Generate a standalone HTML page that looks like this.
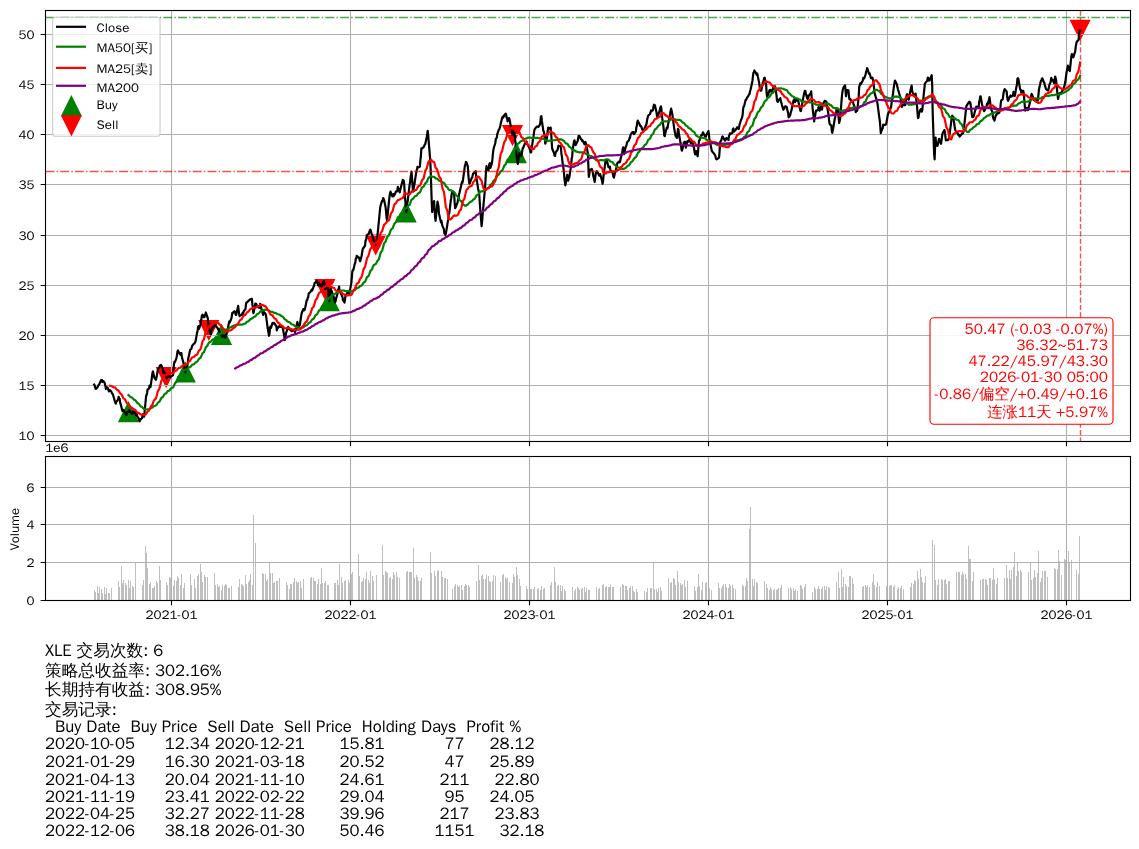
<!DOCTYPE html>
<html><head><meta charset="utf-8"><title>XLE</title>
<style>html,body{margin:0;padding:0;background:#fff;width:1139px;height:849px;overflow:hidden}svg{display:block}text{white-space:pre}</style>
</head><body>
<svg width="1139" height="849" viewBox="0 0 1139 849" font-family="'WenQuanYi Zen Hei','Liberation Sans',sans-serif">
<rect width="1139" height="849" fill="#fff"/>
<g clip-path="url(#cm)">
<clipPath id="cm"><rect x="45.5" y="10.5" width="1085.0" height="431.0"/></clipPath>
<path fill="#008000" stroke="#008000" stroke-width="1.39" stroke-miterlimit="10" d="M128.46,402.59L119.01,421.49L137.91,421.49ZM185.30,362.89L175.85,381.79L194.75,381.79ZM221.52,325.40L212.07,344.30L230.97,344.30ZM329.29,291.61L319.84,310.51L338.74,310.51ZM406.17,202.79L396.72,221.69L415.62,221.69ZM516.39,143.55L506.94,162.45L525.84,162.45Z"/>
<path fill="#ff0000" stroke="#ff0000" stroke-width="1.39" stroke-miterlimit="10" d="M166.19,386.70L156.74,367.80L175.64,367.80ZM208.78,339.49L199.33,320.59L218.23,320.59ZM324.88,298.48L315.43,279.58L334.33,279.58ZM375.82,254.07L366.37,235.17L385.27,235.17ZM512.47,144.60L503.02,125.70L521.92,125.70ZM1080.12,39.34L1070.67,20.44L1089.57,20.44Z"/>
<path fill="none" stroke="#b0b0b0" stroke-width="1.11" d="M45.5,435.50H1130.5M45.5,385.50H1130.5M45.5,335.50H1130.5M45.5,285.50H1130.5M45.5,235.50H1130.5M45.5,184.50H1130.5M45.5,134.50H1130.5M45.5,84.50H1130.5M45.5,34.50H1130.5M171.50,10.5V441.5M350.50,10.5V441.5M529.50,10.5V441.5M708.50,10.5V441.5M887.50,10.5V441.5M1066.50,10.5V441.5"/>
<path fill="none" stroke="#000" stroke-width="2.2" stroke-linejoin="round" stroke-linecap="square" d="M94.18,384.61L94.67,385.42L95.16,387.33L95.65,388.93L96.14,388.67L97.60,386.93L98.09,386.15L98.58,385.01L99.07,384.44L99.56,383.55L101.03,380.19L101.52,380.98L102.01,379.93L102.50,381.98L102.99,380.93L104.46,382.27L104.95,384.25L105.44,386.26L105.93,389.04L106.42,386.72L107.89,387.97L108.38,389.79L108.87,391.47L109.36,390.17L109.85,390.02L111.32,391.47L111.81,392.98L112.30,393.76L112.79,394.12L113.28,395.79L115.24,402.48L115.73,403.66L116.22,401.70L116.71,401.51L118.18,399.26L118.67,396.80L119.16,398.20L119.64,398.68L120.13,402.39L121.60,407.65L122.09,409.95L122.58,411.18L123.07,410.84L123.56,409.93L125.03,413.04L125.52,413.67L126.01,414.48L126.50,415.01L126.99,411.78L128.46,412.04L128.95,411.99L129.44,410.21L129.93,411.29L130.42,412.12L131.89,413.95L132.38,412.13L132.87,413.41L133.36,411.23L133.85,412.74L135.32,411.68L135.81,415.07L136.30,415.51L136.79,414.13L137.28,416.46L138.75,418.52L139.24,420.70L139.73,421.34L140.22,419.01L140.71,419.53L142.20,417.73L142.69,414.25L143.17,415.31L143.66,415.16L144.15,416.77L145.62,401.26L146.11,395.97L146.60,394.94L147.09,392.90L147.58,389.49L149.05,388.62L149.54,385.70L150.03,387.21L150.52,386.89L151.01,383.69L152.48,372.78L152.97,371.47L153.46,373.67L154.44,377.91L155.91,379.81L156.40,377.93L156.89,375.36L157.38,372.44L157.87,369.61L159.34,367.32L159.83,365.60L160.32,365.46L160.81,364.92L161.30,365.19L162.77,368.81L163.26,372.57L163.75,371.66L164.24,371.83L164.73,373.52L166.19,377.25L166.68,378.28L167.17,377.24L167.66,376.40L169.62,376.39L170.11,377.03L170.60,377.10L171.09,376.28L173.05,375.36L173.54,369.19L174.03,363.91L174.52,361.65L175.01,361.76L176.48,357.81L176.97,355.25L177.46,351.69L177.95,350.45L178.44,351.75L180.40,354.49L180.89,353.19L181.38,353.17L181.87,356.98L183.34,362.58L183.83,364.80L184.32,367.67L184.81,369.25L185.30,372.31L186.77,367.97L187.25,366.58L187.74,363.57L188.23,358.73L188.72,356.56L190.19,349.72L190.68,349.16L191.17,348.98L191.66,347.78L192.15,345.67L194.11,343.47L194.60,343.38L195.09,342.29L195.58,341.34L197.05,332.77L197.54,331.08L198.03,327.28L198.52,326.10L199.01,328.83L200.48,324.44L200.97,320.48L201.46,318.90L201.95,315.46L202.44,314.77L203.91,317.21L204.40,317.24L204.89,314.76L205.38,314.00L205.87,312.50L207.32,316.80L207.81,318.21L208.30,324.30L208.78,330.05L209.27,329.99L210.74,334.39L211.23,331.83L211.72,328.51L212.21,328.86L212.70,326.80L214.17,326.34L214.66,325.66L215.15,325.25L215.64,325.70L217.60,328.18L218.09,329.50L218.58,328.81L219.07,330.59L219.56,332.46L221.03,335.19L221.52,334.85L222.01,336.76L222.50,336.33L222.99,335.37L224.46,336.87L224.95,335.68L225.44,337.51L225.93,334.95L226.42,334.59L227.89,329.13L228.38,325.52L228.87,323.16L229.36,321.40L229.85,322.23L231.31,318.67L231.80,316.18L232.29,312.83L232.78,313.16L233.27,312.26L234.74,311.27L235.23,312.55L235.72,314.74L236.21,314.89L236.70,312.33L238.17,305.91L238.66,310.34L239.15,314.13L239.64,316.13L240.13,315.46L241.60,315.06L242.09,314.26L242.58,312.95L243.07,314.91L243.56,311.50L245.52,308.92L246.01,304.12L246.50,302.31L246.99,302.37L248.46,300.85L248.95,300.61L249.44,300.04L249.93,299.46L250.42,299.51L251.89,298.79L252.38,304.67L252.87,307.64L253.35,313.18L253.84,311.91L255.31,303.56L255.80,303.97L256.29,303.91L256.78,306.12L257.27,306.29L258.74,307.59L259.23,306.87L259.72,307.66L260.21,303.95L260.70,305.86L262.66,313.33L263.15,314.84L263.64,312.09L264.13,312.12L265.60,314.03L266.09,316.14L266.58,319.97L267.07,323.43L267.56,327.31L269.03,335.79L269.52,333.54L270.01,327.57L270.50,326.51L270.99,328.02L272.46,322.95L272.95,323.58L273.44,323.71L273.93,322.80L274.42,323.45L275.88,325.66L276.37,325.87L276.86,330.30L277.35,328.32L277.84,328.02L279.31,326.33L279.80,325.63L280.29,326.99L280.78,326.66L281.27,326.91L282.74,327.76L283.23,330.26L283.72,333.37L284.21,335.70L284.70,340.20L286.17,332.63L286.66,331.28L287.15,329.97L287.64,328.27L288.13,326.81L289.60,329.46L290.09,328.94L290.58,330.16L291.07,329.88L291.56,331.18L293.52,330.34L294.01,330.76L294.50,329.38L294.99,332.03L296.46,328.57L296.95,323.66L297.44,321.94L297.92,324.21L298.41,326.82L299.88,324.96L300.37,321.33L300.86,317.97L301.35,314.90L301.84,312.72L303.31,309.10L303.80,310.45L304.29,309.92L304.78,309.77L305.27,307.37L306.74,300.26L307.23,300.21L307.72,297.75L308.21,297.17L308.70,293.60L310.17,292.28L310.66,291.51L311.15,290.95L311.64,289.69L312.13,290.55L313.60,286.60L314.09,285.80L314.58,283.15L315.07,282.86L315.56,282.09L317.03,280.67L317.52,283.12L318.01,285.20L318.50,285.40L318.99,283.07L320.45,285.67L320.94,285.20L321.43,286.43L321.92,286.49L322.41,284.25L323.90,280.92L324.39,282.91L324.88,289.03L325.37,287.56L325.86,286.83L327.33,288.52L327.82,287.30L328.31,291.24L328.80,297.84L329.29,301.05L330.76,288.26L331.25,290.30L331.74,291.03L332.72,294.33L334.19,298.49L334.68,301.36L335.17,302.35L335.66,300.84L336.15,298.33L337.62,293.24L338.11,289.43L338.60,289.61L339.09,286.70L339.58,290.59L341.05,294.06L341.54,294.53L342.03,296.39L342.52,297.07L343.01,300.21L344.47,302.48L344.96,300.03L345.45,295.92L345.94,294.80L347.90,292.15L348.39,292.10L348.88,291.99L349.37,293.65L351.33,283.10L351.82,277.63L352.31,271.76L352.80,270.00L353.29,270.20L354.76,263.85L355.25,262.80L355.74,258.86L356.23,258.46L356.72,255.85L358.68,257.66L359.17,257.58L359.66,260.35L360.15,261.20L361.62,256.04L362.11,252.63L362.60,249.77L363.09,248.26L363.58,247.95L365.05,245.65L365.53,240.56L366.02,239.85L366.51,237.14L367.00,235.35L368.47,233.91L368.96,233.38L369.45,231.45L369.94,230.32L370.43,229.57L371.90,234.69L372.39,235.52L372.88,237.15L373.37,238.88L373.86,241.16L375.82,244.62L376.31,242.85L376.80,239.96L377.29,236.95L378.76,222.71L379.25,217.46L379.74,212.22L380.23,207.38L380.72,205.00L382.19,200.57L382.68,200.65L383.17,198.07L383.66,198.98L384.15,200.22L385.60,207.27L386.09,211.50L386.58,217.62L387.06,220.49L387.55,215.56L389.02,201.03L389.51,196.27L390.00,193.63L390.49,191.65L390.98,192.81L392.45,196.49L392.94,196.34L393.43,194.14L393.92,195.75L394.41,195.08L395.88,191.81L396.37,191.07L396.86,191.46L397.35,190.72L397.84,186.93L399.31,191.15L399.80,192.30L400.29,189.62L400.78,187.82L402.74,179.93L403.23,181.10L403.72,180.74L404.21,184.19L404.70,192.97L406.17,212.21L406.66,209.94L407.15,204.20L407.64,201.27L408.13,197.37L409.59,184.96L410.08,182.36L410.57,177.51L411.06,174.66L411.55,171.71L413.02,191.64L413.51,189.97L414.00,186.23L414.49,184.37L414.98,180.36L416.45,170.99L416.94,169.66L417.43,166.94L417.92,166.85L418.41,167.46L419.88,166.64L420.37,160.32L420.86,156.58L421.35,148.46L421.84,148.81L423.80,146.88L424.29,145.74L424.78,144.62L425.27,144.08L426.74,136.92L427.23,133.95L427.72,130.76L428.21,135.58L428.70,141.65L430.17,159.64L430.66,169.13L431.15,184.33L431.63,198.72L432.12,211.98L434.08,201.07L434.57,209.27L435.06,216.33L435.55,220.86L437.02,206.91L437.51,201.67L438.00,203.93L438.49,206.45L438.98,213.61L440.94,222.35L441.43,220.75L441.92,223.61L442.41,225.88L443.88,229.09L444.37,233.40L444.86,233.20L445.35,234.95L445.84,233.84L447.31,224.91L447.80,221.63L448.29,219.96L448.78,213.85L449.27,213.46L450.74,200.77L451.23,198.13L451.72,193.82L452.21,191.85L452.70,191.14L454.16,194.20L454.65,202.39L455.14,208.12L455.63,207.21L456.12,206.21L457.59,202.39L458.08,199.47L458.57,198.18L459.06,194.07L459.55,192.59L461.02,186.30L461.51,183.69L462.00,181.74L462.49,182.69L462.98,180.01L464.45,169.14L464.94,165.32L465.43,164.80L465.92,161.96L466.41,162.18L467.88,166.59L468.37,175.49L468.86,179.89L469.35,183.54L469.84,183.17L471.80,177.52L472.29,177.39L472.78,174.91L473.27,173.46L474.74,172.09L475.23,171.91L475.72,171.23L476.20,176.63L476.69,179.32L478.16,189.03L478.65,190.96L479.14,192.91L479.63,200.47L480.12,207.58L481.59,226.05L482.08,222.20L482.57,215.35L483.06,210.01L483.55,204.17L485.02,188.47L485.51,180.16L486.00,172.00L486.49,166.16L486.98,168.14L488.45,170.30L488.94,166.73L489.43,163.79L489.92,163.11L490.41,167.85L491.88,163.40L492.37,159.79L492.86,154.26L493.35,150.14L493.84,147.71L495.31,142.99L495.80,139.03L496.29,138.46L496.78,137.73L497.27,134.10L498.73,129.94L499.22,129.52L499.71,127.95L500.20,126.65L500.69,123.66L502.18,117.90L502.67,116.76L503.16,117.61L503.65,116.80L504.14,115.27L505.61,113.68L506.10,114.30L506.59,117.69L507.08,117.96L507.57,121.29L509.04,118.09L509.53,119.48L510.02,122.07L511.00,127.57L512.47,135.15L512.96,131.61L513.45,130.90L513.94,133.69L514.43,133.00L515.90,146.87L516.39,152.95L516.88,158.36L517.37,161.97L517.86,163.95L519.33,153.22L519.82,154.76L520.31,154.58L520.80,155.22L521.28,156.03L522.75,148.12L523.24,148.08L523.73,146.17L524.22,145.27L524.71,144.04L526.67,141.50L527.16,144.23L527.65,144.72L528.14,145.49L530.10,149.81L530.59,152.36L531.08,152.40L531.57,149.07L533.04,138.95L533.53,136.37L534.02,132.42L534.51,129.58L535.00,128.77L536.96,126.59L537.45,126.56L537.94,126.51L538.43,126.87L539.90,124.68L540.39,121.99L540.88,116.56L541.37,116.17L541.86,120.63L543.33,130.82L543.81,131.36L544.30,133.81L544.79,137.16L545.28,143.56L546.75,139.35L547.24,135.05L547.73,130.52L548.22,127.70L548.71,127.76L550.18,129.63L550.67,127.62L551.16,133.00L551.65,141.00L552.14,148.49L554.10,153.22L554.59,155.70L555.08,155.85L555.57,152.52L557.04,150.43L557.53,149.91L558.02,147.83L558.51,145.53L559.00,145.93L560.47,146.01L560.96,148.18L561.45,153.90L561.94,156.89L562.43,161.50L563.88,171.35L564.37,177.84L564.85,181.53L565.34,185.38L565.83,182.81L567.30,174.73L567.79,179.56L568.28,180.70L568.77,177.54L569.26,177.77L570.73,168.17L571.22,163.73L571.71,158.41L572.20,156.51L572.69,149.46L574.16,140.75L574.65,140.52L575.14,144.52L575.63,145.09L577.59,141.13L578.08,139.13L578.57,135.95L579.06,136.21L579.55,136.11L581.02,139.32L581.51,139.57L582.00,140.85L582.49,140.27L582.98,141.36L584.45,144.25L584.94,144.07L585.43,141.95L585.92,143.46L586.41,144.81L587.87,153.74L588.36,165.35L588.85,176.86L589.34,174.01L589.83,170.08L591.30,169.29L591.79,168.80L592.28,170.30L592.77,172.18L593.26,175.86L594.73,181.87L595.22,177.37L595.71,173.75L596.20,172.23L596.69,171.23L598.16,173.40L598.65,174.56L599.14,175.67L599.63,175.63L600.12,174.14L602.08,180.94L602.57,183.77L603.06,180.98L603.55,175.43L605.02,164.94L605.51,160.88L606.00,160.46L606.49,162.56L606.98,160.86L608.45,167.03L608.94,166.77L609.42,167.72L609.91,166.70L610.40,170.27L612.36,172.01L612.85,173.68L613.34,176.43L613.83,177.71L615.30,171.55L615.79,170.49L616.28,168.15L616.77,166.22L617.26,163.32L618.73,161.66L619.71,162.43L620.20,161.06L620.69,158.19L622.16,153.73L622.65,149.23L623.14,147.34L623.63,149.60L624.12,154.24L625.59,147.13L626.08,146.19L626.57,144.87L627.06,142.24L627.55,141.80L629.02,140.33L629.51,137.88L630.00,137.93L630.49,134.95L630.98,134.17L632.44,132.13L632.93,131.98L633.42,132.02L633.91,134.07L634.40,133.65L635.87,131.50L636.36,127.40L636.85,125.78L637.34,121.95L637.83,120.65L639.30,123.66L639.79,125.03L640.28,126.05L640.77,125.96L641.26,126.69L642.73,130.66L643.22,130.89L643.71,130.12L644.20,129.50L644.69,127.99L646.16,125.05L646.65,123.13L647.14,119.62L647.63,117.81L648.12,115.80L650.08,114.02L650.57,112.40L651.06,110.36L651.55,111.19L653.02,110.02L653.51,106.41L653.99,104.74L654.48,104.89L654.97,105.49L656.44,112.00L656.93,115.25L657.42,117.88L657.91,115.67L658.40,114.77L659.87,109.71L660.36,107.58L660.85,106.32L661.34,108.10L661.83,115.19L663.30,125.88L663.79,129.84L664.28,135.60L664.77,136.19L665.26,133.37L666.73,127.74L667.22,128.58L667.71,127.06L668.20,123.65L668.69,121.56L670.16,113.62L670.65,110.49L671.14,108.67L671.63,111.15L672.12,112.68L673.59,123.98L674.08,127.59L674.57,130.49L675.06,133.15L675.55,135.85L677.01,137.94L677.50,133.60L677.99,128.82L678.48,129.60L678.97,134.05L680.46,142.44L680.95,144.97L681.44,149.16L681.93,150.72L682.42,149.37L683.89,142.35L684.38,142.55L684.87,141.75L685.36,145.74L685.85,147.62L687.32,141.30L687.81,141.94L688.30,140.90L689.28,139.93L690.75,143.13L691.24,143.27L691.73,142.07L692.22,141.96L692.71,142.95L694.18,148.84L694.67,152.94L695.16,154.48L695.65,153.01L696.14,151.13L697.61,156.31L698.10,151.05L698.59,144.36L699.08,140.25L699.56,140.39L701.03,135.48L701.52,135.14L702.01,135.06L702.50,133.73L702.99,132.36L704.95,136.17L705.44,136.30L705.93,136.79L706.42,134.90L708.38,131.04L708.87,134.05L709.36,138.92L709.85,141.19L711.32,148.39L711.81,151.07L712.30,151.59L712.79,152.28L713.28,152.61L715.24,155.40L715.73,157.58L716.22,159.06L716.71,159.39L718.18,158.42L718.67,158.09L719.16,156.74L719.65,150.38L720.14,142.27L721.60,139.39L722.09,137.10L722.58,136.37L723.07,137.61L723.56,138.16L725.03,140.66L725.52,140.00L726.01,138.50L726.50,138.09L726.99,138.57L728.46,140.03L728.95,136.20L729.44,134.84L729.93,133.26L730.42,134.21L732.38,132.78L732.87,129.33L733.36,128.47L733.85,131.69L735.32,130.17L735.81,129.67L736.30,128.52L736.79,128.48L737.28,127.23L738.75,128.93L739.24,126.36L739.73,123.94L740.22,122.52L740.71,120.83L742.16,117.22L742.65,114.74L743.13,108.68L743.62,106.57L744.11,106.22L745.58,99.90L746.07,99.85L746.56,99.00L747.05,97.25L747.54,97.22L749.01,94.62L749.50,93.99L749.99,91.49L750.48,90.01L752.44,80.92L752.93,76.46L753.42,72.74L753.91,72.35L754.40,70.48L755.87,72.92L756.36,74.04L756.85,74.83L757.34,73.60L757.83,76.40L759.30,83.60L759.79,88.38L760.28,88.32L760.77,90.71L761.26,90.45L762.73,82.87L763.22,82.01L763.71,79.93L764.20,78.01L764.69,77.75L766.15,84.65L766.64,93.51L767.13,96.82L767.62,95.48L768.11,94.82L769.58,90.18L770.07,89.82L770.56,91.42L771.05,90.25L771.54,91.73L773.01,88.46L773.50,86.94L773.99,89.05L774.48,87.20L774.97,86.16L776.44,94.72L776.93,100.15L777.42,101.54L777.91,101.92L778.40,100.44L780.36,98.19L780.85,101.34L781.34,102.51L781.83,104.60L783.30,109.78L783.79,108.81L784.28,108.54L784.77,106.86L785.26,106.25L786.73,107.06L787.22,109.48L787.70,111.34L788.19,113.52L788.68,117.48L790.15,115.31L790.64,112.95L791.62,109.67L792.11,107.25L793.58,100.27L794.07,100.55L794.56,98.87L795.05,102.10L795.54,101.12L797.01,99.72L797.50,100.48L797.99,100.10L798.97,104.12L800.44,110.74L800.93,111.00L801.42,107.80L801.91,106.17L802.40,102.41L803.87,94.61L804.36,92.63L804.85,90.78L805.34,90.95L805.83,93.56L807.30,98.82L807.79,95.97L808.28,98.06L808.77,95.44L809.26,94.91L810.72,93.08L811.21,91.37L811.70,98.08L812.19,102.65L812.68,108.90L814.15,121.41L814.64,118.38L815.13,115.50L815.62,112.60L816.11,110.48L817.58,110.43L818.07,108.87L818.56,107.13L819.05,109.39L819.54,110.75L821.01,106.00L821.50,109.26L821.99,109.49L822.48,106.29L822.97,104.18L824.44,101.19L824.93,100.68L825.42,101.18L825.91,101.60L826.40,101.60L828.36,113.99L828.85,118.07L829.34,122.44L829.83,124.31L831.30,125.45L831.79,130.85L832.27,132.82L832.76,130.34L833.25,128.10L834.72,119.00L835.21,117.39L835.70,113.25L836.19,112.12L836.68,108.36L838.15,111.22L838.64,117.81L839.13,123.02L839.62,121.05L840.11,119.11L841.58,100.24L842.07,94.64L842.56,91.10L843.05,88.65L843.54,87.34L845.01,85.31L845.50,90.38L845.99,96.18L846.48,92.42L846.97,90.01L848.44,90.27L848.93,95.84L849.42,99.42L849.91,99.05L850.40,99.11L851.87,101.98L852.36,101.94L852.85,101.25L853.34,103.35L853.83,104.92L855.29,109.26L855.78,112.13L856.27,110.54L856.76,110.30L857.25,110.74L858.74,96.03L859.23,86.60L859.72,85.59L860.21,83.44L860.70,84.30L862.17,81.64L862.66,81.04L863.15,78.09L863.64,78.85L864.13,78.23L865.60,74.61L866.09,71.57L866.58,71.39L867.07,68.17L867.56,68.93L869.03,73.99L869.52,73.13L870.01,74.79L870.99,78.31L872.46,77.64L872.95,79.74L873.44,82.02L873.93,87.21L874.42,92.36L875.89,97.68L876.38,99.05L876.87,100.03L877.36,102.97L877.84,106.17L879.31,117.62L879.80,120.75L880.29,126.27L880.78,133.18L881.27,131.42L882.74,128.06L883.23,124.69L884.21,125.12L884.70,125.00L886.17,124.17L886.66,121.53L887.64,115.57L888.13,113.65L889.60,111.09L890.09,109.94L890.58,108.26L891.07,107.13L891.56,103.13L893.03,93.38L893.52,89.36L894.01,86.02L894.50,82.87L894.99,80.54L896.95,84.42L897.44,87.31L897.93,89.37L898.42,90.68L899.88,95.92L900.37,97.17L900.86,100.04L901.35,103.92L901.84,106.86L903.31,104.30L903.80,104.34L904.29,104.18L904.78,105.19L905.27,105.00L906.74,94.83L907.23,94.27L907.72,96.43L908.21,98.85L908.70,99.67L910.66,89.43L911.15,87.53L911.64,85.64L912.13,90.79L913.60,95.55L914.09,94.99L914.58,94.41L915.07,96.43L915.56,93.57L917.03,106.30L917.52,112.40L918.01,118.16L918.50,117.57L918.99,113.56L920.44,109.55L920.93,109.20L921.41,109.67L921.90,111.63L922.39,109.39L923.86,93.02L924.35,88.91L924.84,83.82L925.33,83.06L925.82,82.20L927.29,80.75L927.78,77.61L928.27,77.83L928.76,78.71L929.25,80.60L930.72,78.17L931.21,76.14L931.70,75.13L932.19,84.61L932.68,112.54L934.15,154.44L934.64,159.32L935.13,145.69L935.62,137.68L936.11,145.00L937.58,145.83L938.07,143.31L938.56,141.09L939.05,138.76L941.01,143.84L941.50,141.05L941.99,136.71L942.48,133.72L942.97,132.56L944.43,130.07L944.92,132.11L945.41,136.76L945.90,140.30L946.39,140.24L947.86,140.10L948.35,139.26L948.84,138.68L949.33,136.15L949.82,132.55L951.29,121.13L951.78,116.99L952.27,115.67L952.76,117.06L953.25,116.81L954.72,126.98L955.21,130.02L955.70,130.77L956.19,131.94L956.68,131.62L958.64,135.17L959.13,134.94L959.62,136.62L960.11,136.10L961.58,134.12L962.07,133.29L962.56,133.70L963.05,133.30L963.54,131.36L965.01,118.56L965.50,113.77L965.98,109.03L966.47,105.88L966.96,105.11L968.43,102.84L968.92,102.32L969.41,101.69L970.39,102.99L971.86,114.40L972.35,117.11L972.84,115.57L973.33,116.94L973.82,115.69L975.29,109.91L975.78,109.15L976.27,106.67L976.76,107.35L978.72,106.32L979.21,101.50L979.70,100.42L980.19,96.57L980.68,96.36L982.15,105.16L982.64,106.17L983.13,108.76L983.62,109.67L984.11,111.20L985.58,108.50L986.07,107.19L986.56,105.83L987.05,103.74L987.54,104.85L989.00,99.66L989.49,97.23L989.98,100.64L990.47,104.71L990.96,108.49L992.43,112.38L992.92,116.89L993.41,118.76L993.90,119.13L994.39,120.71L995.86,115.07L996.35,115.27L996.84,113.37L997.33,113.02L997.82,113.45L999.29,112.82L999.78,110.37L1000.27,109.43L1000.76,103.28L1001.25,100.45L1002.72,99.40L1003.21,95.55L1003.70,91.95L1004.19,90.33L1004.68,89.09L1006.64,91.55L1007.13,96.59L1007.62,99.51L1008.11,100.77L1009.58,96.86L1010.06,96.81L1010.55,95.42L1011.04,96.40L1011.53,96.64L1013.00,94.99L1013.49,91.87L1013.98,93.89L1014.47,96.23L1014.96,95.24L1016.43,86.67L1016.92,85.15L1017.41,78.88L1017.90,78.08L1018.39,79.07L1019.86,87.51L1020.35,89.89L1020.84,89.91L1021.33,92.65L1021.82,90.79L1023.29,90.85L1023.78,93.63L1024.27,99.52L1024.76,105.54L1025.25,110.56L1026.72,107.87L1027.21,109.60L1027.70,110.16L1028.19,109.56L1028.68,107.58L1030.15,101.55L1030.64,98.78L1031.13,95.99L1031.62,93.87L1032.11,94.94L1033.57,98.59L1034.06,100.23L1034.55,100.33L1035.04,99.66L1035.53,99.42L1037.02,101.22L1037.51,101.23L1038.00,99.02L1038.49,94.33L1038.98,89.43L1040.45,82.66L1040.94,80.91L1041.43,80.79L1041.92,78.47L1042.41,78.38L1043.88,82.41L1044.37,82.89L1044.86,85.53L1045.35,86.71L1045.84,88.84L1047.31,90.04L1047.80,89.76L1048.29,90.58L1049.27,85.14L1050.74,81.74L1051.23,77.76L1051.72,79.09L1052.21,80.59L1052.70,79.67L1054.17,83.31L1054.66,81.35L1055.15,76.63L1055.63,77.94L1056.12,79.94L1057.59,95.30L1058.08,98.94L1058.57,96.20L1059.06,95.06L1059.55,93.41L1061.02,92.66L1061.51,93.08L1062.00,91.47L1062.98,90.15L1064.45,85.94L1064.94,83.55L1065.43,81.32L1066.41,73.17L1067.88,65.69L1068.37,67.97L1068.86,70.16L1069.35,70.22L1069.84,71.00L1071.31,56.43L1071.80,54.08L1072.29,54.28L1072.78,54.99L1073.27,57.38L1075.23,51.34L1075.72,46.59L1076.21,43.99L1076.70,41.88L1078.16,40.36L1078.65,39.50L1079.14,33.56L1079.63,30.56L1080.12,29.79"/>
<path fill="none" stroke="#008000" stroke-width="2.2" stroke-linejoin="round" stroke-linecap="square" d="M128.46,394.97L128.95,395.52L129.44,396.02L129.93,396.50L130.42,396.96L131.89,397.47L132.38,397.98L132.87,398.52L133.36,399.05L133.85,399.61L135.32,400.18L135.81,400.88L136.30,401.57L136.79,402.25L137.28,402.95L138.75,403.70L139.24,404.47L139.73,405.21L140.22,405.87L140.71,406.48L142.20,407.10L142.69,407.63L143.17,408.14L143.66,408.61L144.15,409.15L145.62,409.37L146.11,409.46L146.60,409.50L147.09,409.49L147.58,409.40L149.05,409.26L149.54,408.92L150.03,408.59L150.52,408.30L151.01,407.94L152.48,407.41L152.97,406.91L153.46,406.42L154.44,406.00L155.91,405.56L156.40,404.96L156.89,404.27L157.38,403.50L157.87,402.67L159.34,401.82L159.83,400.88L160.32,399.91L160.81,398.92L161.30,397.93L162.77,397.07L163.26,396.28L163.75,395.48L164.24,394.71L164.73,393.95L166.19,393.26L166.68,392.55L167.17,391.85L167.66,391.11L169.62,390.42L170.11,389.70L170.60,389.01L171.09,388.24L173.05,387.44L173.54,386.54L174.03,385.49L174.52,384.35L175.01,383.18L176.48,381.91L176.97,380.63L177.46,379.28L177.95,377.93L178.44,376.68L180.40,375.47L180.89,374.23L181.38,372.96L181.87,372.08L183.34,371.41L183.83,370.81L184.32,370.31L184.81,369.90L185.30,369.58L186.77,369.22L187.25,368.81L187.74,368.35L188.23,367.85L188.72,367.52L190.19,367.09L190.68,366.60L191.17,366.03L191.66,365.39L192.15,364.74L194.11,364.11L194.60,363.53L195.09,362.98L195.58,362.46L197.05,361.81L197.54,361.12L198.03,360.37L198.52,359.59L199.01,358.79L200.48,357.83L200.97,356.81L201.46,355.75L201.95,354.59L202.44,353.34L203.91,352.12L204.40,350.92L204.89,349.69L205.38,348.44L205.87,347.15L207.32,345.95L207.81,344.79L208.30,343.77L208.78,342.99L209.27,342.31L210.74,341.77L211.23,341.17L211.72,340.58L212.21,340.06L212.70,339.56L214.17,339.08L214.66,338.56L215.15,337.97L215.64,337.43L217.60,336.93L218.09,336.38L218.58,335.71L219.07,335.02L219.56,334.32L221.03,333.64L221.52,332.89L222.01,332.27L222.50,331.66L222.99,331.10L224.46,330.67L224.95,330.25L225.44,330.01L225.93,329.72L226.42,329.44L227.89,329.07L228.38,328.66L228.87,328.26L229.36,327.82L229.85,327.42L231.31,326.97L231.80,326.64L232.29,326.27L232.78,325.99L233.27,325.72L234.74,325.37L235.23,325.13L235.72,325.02L236.21,324.94L236.70,324.88L238.17,324.70L238.66,324.56L239.15,324.50L239.64,324.53L240.13,324.56L241.60,324.61L242.09,324.56L242.58,324.46L243.07,324.27L243.56,323.90L245.52,323.49L246.01,322.88L246.50,322.29L246.99,321.77L248.46,321.21L248.95,320.69L249.44,320.16L249.93,319.64L250.42,319.13L251.89,318.59L252.38,318.12L252.87,317.69L253.35,317.37L253.84,317.00L255.31,316.43L255.80,315.80L256.29,315.18L256.78,314.57L257.27,313.97L258.74,313.42L259.23,312.82L259.72,312.26L260.21,311.59L260.70,311.01L262.66,310.59L263.15,310.30L263.64,310.03L264.13,309.81L265.60,309.67L266.09,309.55L266.58,309.58L267.07,309.72L267.56,310.01L269.03,310.47L269.52,310.89L270.01,311.22L270.50,311.50L270.99,311.77L272.46,311.93L272.95,312.16L273.44,312.51L273.93,312.76L274.42,312.95L275.88,313.14L276.37,313.35L276.86,313.66L277.35,313.94L277.84,314.24L279.31,314.47L279.80,314.76L280.29,315.12L280.78,315.57L281.27,316.06L282.74,316.57L283.23,317.16L283.72,317.82L284.21,318.53L284.70,319.35L286.17,320.01L286.66,320.66L287.15,321.17L287.64,321.58L288.13,321.86L289.60,322.21L290.09,322.72L290.58,323.24L291.07,323.76L291.56,324.27L293.52,324.75L294.01,325.22L294.50,325.67L294.99,326.15L296.46,326.65L296.95,327.01L297.44,327.18L297.92,327.37L298.41,327.66L299.88,327.92L300.37,328.07L300.86,328.11L301.35,328.01L301.84,327.79L303.31,327.43L303.80,326.93L304.29,326.45L304.78,326.10L305.27,325.72L306.74,325.16L307.23,324.71L307.72,324.19L308.21,323.66L308.70,323.08L310.17,322.46L310.66,321.78L311.15,321.08L311.64,320.27L312.13,319.51L313.60,318.69L314.09,317.88L314.58,317.03L315.07,316.15L315.56,315.26L317.03,314.34L317.52,313.44L318.01,312.54L318.50,311.58L318.99,310.53L320.45,309.44L320.94,308.50L321.43,307.60L321.92,306.73L322.41,305.85L323.90,304.94L324.39,304.01L324.88,303.21L325.37,302.36L325.86,301.50L327.33,300.65L327.82,299.79L328.31,299.00L328.80,298.37L329.29,297.75L330.76,296.95L331.25,296.28L331.74,295.66L332.72,295.07L334.19,294.50L334.68,294.03L335.17,293.65L335.66,293.31L336.15,292.98L337.62,292.59L338.11,292.20L338.60,291.78L339.09,291.32L339.58,290.94L341.05,290.67L341.54,290.56L342.03,290.49L342.52,290.47L343.01,290.53L344.47,290.71L344.96,290.87L345.45,290.96L345.94,291.04L347.90,291.09L348.39,291.12L348.88,291.23L349.37,291.39L351.33,291.39L351.82,291.29L352.31,291.08L352.80,290.87L353.29,290.61L354.76,290.19L355.25,289.74L355.74,289.25L356.23,288.71L356.72,288.12L358.68,287.55L359.17,286.97L359.66,286.50L360.15,286.10L361.62,285.57L362.11,284.84L362.60,284.09L363.09,283.32L363.58,282.50L365.05,281.67L365.53,280.66L366.02,279.50L366.51,278.23L367.00,277.17L368.47,276.04L368.96,274.89L369.45,273.63L369.94,272.27L370.43,270.84L371.90,269.49L372.39,268.18L372.88,266.96L373.37,265.87L373.86,264.91L375.82,264.01L376.31,263.13L376.80,262.12L377.29,260.98L378.76,259.55L379.25,257.97L379.74,256.27L380.23,254.43L380.72,252.51L382.19,250.60L382.68,248.73L383.17,246.82L383.66,244.99L384.15,243.18L385.60,241.56L386.09,239.95L386.58,238.67L387.06,237.55L387.55,236.46L389.02,235.16L389.51,233.71L390.00,232.34L390.49,230.94L390.98,229.65L392.45,228.50L392.94,227.33L393.43,226.09L393.92,224.88L394.41,223.61L395.88,222.30L396.37,221.03L396.86,219.84L397.35,218.68L397.84,217.49L399.31,216.43L399.80,215.40L400.29,214.40L400.78,213.39L402.74,212.36L403.23,211.30L403.72,210.27L404.21,209.31L404.70,208.57L406.17,208.29L406.66,207.90L407.15,207.30L407.64,206.62L408.13,205.84L409.59,204.78L410.08,203.62L410.57,202.28L411.06,200.93L411.55,199.57L413.02,198.69L413.51,198.04L414.00,197.42L414.49,196.88L414.98,196.34L416.45,195.69L416.94,195.08L417.43,194.41L417.92,193.80L418.41,193.17L419.88,192.53L420.37,191.60L420.86,190.50L421.35,189.13L421.84,187.70L423.80,186.36L424.29,185.27L424.78,184.24L425.27,183.26L426.74,182.19L427.23,181.02L427.72,179.71L428.21,178.50L428.70,177.46L430.17,176.76L430.66,176.24L431.15,176.08L431.63,176.23L432.12,176.63L434.08,176.82L434.57,177.26L435.06,177.76L435.55,178.32L437.02,178.65L437.51,178.92L438.00,179.40L438.49,179.90L438.98,180.55L440.94,181.29L441.43,181.84L441.92,182.06L442.41,182.37L443.88,182.86L444.37,183.49L444.86,184.20L445.35,185.20L445.84,186.22L447.31,187.15L447.80,188.09L448.29,189.05L448.78,189.48L449.27,189.95L450.74,190.22L451.23,190.49L451.72,190.75L452.21,191.17L452.70,191.59L454.16,192.12L454.65,192.82L455.14,193.63L455.63,194.44L456.12,195.35L457.59,196.25L458.08,197.26L458.57,198.24L459.06,199.18L459.55,200.11L461.02,200.93L461.51,201.72L462.00,202.61L462.49,203.58L462.98,204.55L464.45,205.21L464.94,205.68L465.43,205.77L465.92,205.63L466.41,205.18L467.88,204.52L468.37,203.78L468.86,203.35L469.35,202.83L469.84,202.16L471.80,201.27L472.29,200.68L472.78,200.14L473.27,199.52L474.74,198.82L475.23,197.98L475.72,196.95L476.20,196.06L476.69,195.17L478.16,194.41L478.65,193.65L479.14,192.83L479.63,192.17L480.12,191.62L481.59,191.44L482.08,191.38L482.57,191.25L483.06,191.05L483.55,190.85L485.02,190.33L485.51,189.91L486.00,189.39L486.49,188.83L486.98,188.35L488.45,187.91L488.94,187.36L489.43,186.58L489.92,185.68L490.41,184.88L491.88,184.01L492.37,183.15L492.86,182.24L493.35,181.28L493.84,180.34L495.31,179.33L495.80,178.38L496.29,177.47L496.78,176.59L497.27,175.61L498.73,174.59L499.22,173.79L499.71,173.04L500.20,172.27L500.69,171.50L502.18,170.60L502.67,169.59L503.16,168.43L503.65,167.16L504.14,165.79L505.61,164.38L506.10,163.11L506.59,161.91L507.08,160.77L507.57,159.72L509.04,158.62L509.53,157.57L510.02,156.58L511.00,155.59L512.47,154.69L512.96,153.53L513.45,152.33L513.94,151.14L514.43,149.78L515.90,148.55L516.39,147.08L516.88,145.80L517.37,144.73L517.86,143.80L519.33,142.76L519.82,142.08L520.31,141.57L520.80,141.22L521.28,141.02L522.75,140.60L523.24,140.15L523.73,139.73L524.22,139.36L524.71,138.97L526.67,138.42L527.16,138.03L527.65,137.72L528.14,137.54L530.10,137.51L530.59,137.60L531.08,137.78L531.57,137.98L533.04,137.97L533.53,137.94L534.02,137.91L534.51,137.90L535.00,137.89L536.96,137.86L537.45,137.86L537.94,137.91L538.43,138.09L539.90,138.25L540.39,138.34L540.88,138.33L541.37,138.35L541.86,138.49L543.33,138.82L543.81,139.10L544.30,139.41L544.79,139.73L545.28,140.24L546.75,140.64L547.24,140.90L547.73,140.96L548.22,140.81L548.71,140.73L550.18,140.70L550.67,140.58L551.16,140.58L551.65,140.47L552.14,140.38L554.10,140.27L554.59,140.15L555.08,139.99L555.57,139.97L557.04,139.89L557.53,139.79L558.02,139.64L558.51,139.43L559.00,139.39L560.47,139.35L560.96,139.39L561.45,139.56L561.94,139.82L562.43,140.20L563.88,140.70L564.37,141.34L564.85,142.05L565.34,142.74L565.83,143.34L567.30,143.74L567.79,144.33L568.28,145.15L568.77,145.95L569.26,146.84L570.73,147.57L571.22,148.25L571.71,148.87L572.20,149.45L572.69,149.90L574.16,150.13L574.65,150.43L575.14,150.86L575.63,151.41L577.59,151.85L578.08,152.20L578.57,152.29L579.06,152.37L579.55,152.40L581.02,152.41L581.51,152.32L582.00,152.35L582.49,152.44L582.98,152.65L584.45,152.96L584.94,153.28L585.43,153.52L585.92,153.83L586.41,154.06L587.87,154.29L588.36,154.62L588.85,155.09L589.34,155.45L589.83,155.72L591.30,156.04L591.79,156.40L592.28,156.80L592.77,157.28L593.26,157.88L594.73,158.57L595.22,159.19L595.71,159.70L596.20,160.06L596.69,160.33L598.16,160.55L598.65,160.61L599.14,160.56L599.63,160.43L600.12,160.20L602.08,160.13L602.57,160.31L603.06,160.33L603.55,160.21L605.02,159.94L605.51,159.60L606.00,159.43L606.49,159.40L606.98,159.44L608.45,159.63L608.94,159.97L609.42,160.50L609.91,161.02L610.40,161.53L612.36,162.04L612.85,162.68L613.34,163.42L613.83,164.25L615.30,164.93L615.79,165.61L616.28,166.18L616.77,166.71L617.26,167.15L618.73,167.55L619.71,167.96L620.20,168.29L620.69,168.58L622.16,168.81L622.65,168.93L623.14,168.98L623.63,168.90L624.12,168.68L625.59,168.08L626.08,167.53L626.57,167.03L627.06,166.48L627.55,165.95L629.02,165.35L629.51,164.66L630.00,163.90L630.49,162.97L630.98,162.10L632.44,161.27L632.93,160.47L633.42,159.69L633.91,158.90L634.40,158.08L635.87,157.20L636.36,156.24L636.85,155.27L637.34,154.09L637.83,152.83L639.30,151.68L639.79,150.68L640.28,149.90L640.77,149.20L641.26,148.53L642.73,147.89L643.22,147.29L643.71,146.56L644.20,145.81L644.69,145.02L646.16,144.19L646.65,143.24L647.14,142.20L647.63,141.08L648.12,139.87L650.08,138.60L650.57,137.41L651.06,136.21L651.55,135.07L653.02,133.95L653.51,132.81L653.99,131.68L654.48,130.53L654.97,129.42L656.44,128.49L656.93,127.72L657.42,127.10L657.91,126.47L658.40,125.77L659.87,124.88L660.36,124.09L660.85,123.29L661.34,122.56L661.83,122.02L663.30,121.70L663.79,121.49L664.28,121.45L664.77,121.41L665.26,121.38L666.73,121.26L667.22,121.19L667.71,121.09L668.20,120.92L668.69,120.67L670.16,120.27L670.65,119.85L671.14,119.48L671.63,119.19L672.12,119.00L673.59,119.07L674.08,119.15L674.57,119.26L675.06,119.40L675.55,119.60L677.01,119.83L677.50,119.89L677.99,119.85L678.48,119.84L678.97,119.93L680.46,120.22L680.95,120.62L681.44,121.14L681.93,121.76L682.42,122.40L683.89,122.93L684.38,123.50L684.87,124.09L685.36,124.80L685.85,125.53L687.32,126.15L687.81,126.86L688.30,127.59L689.28,128.29L690.75,129.05L691.24,129.67L691.73,130.21L692.22,130.69L692.71,131.24L694.18,131.92L694.67,132.79L695.16,133.72L695.65,134.66L696.14,135.52L697.61,136.34L698.10,136.85L698.59,137.14L699.08,137.23L699.56,137.32L701.03,137.36L701.52,137.51L702.01,137.64L702.50,137.77L702.99,137.95L704.95,138.24L705.44,138.70L705.93,139.23L706.42,139.75L708.38,140.15L708.87,140.58L709.36,140.88L709.85,141.15L711.32,141.51L711.81,141.87L712.30,142.19L712.79,142.47L713.28,142.85L715.24,143.39L715.73,143.95L716.22,144.45L716.71,144.79L718.18,145.06L718.67,145.24L719.16,145.36L719.65,145.38L720.14,145.38L721.60,145.32L722.09,145.23L722.58,145.04L723.07,144.84L723.56,144.78L725.03,144.76L725.52,144.74L726.01,144.71L726.50,144.61L726.99,144.52L728.46,144.48L728.95,144.36L729.44,144.20L729.93,143.89L730.42,143.52L732.38,143.08L732.87,142.61L733.36,142.16L733.85,141.67L735.32,141.25L735.81,140.96L736.30,140.73L736.79,140.49L737.28,140.32L738.75,140.20L739.24,140.03L739.73,139.83L740.22,139.64L740.71,139.33L742.16,138.95L742.65,138.51L743.13,137.99L743.62,137.50L744.11,136.94L745.58,136.16L746.07,135.34L746.56,134.35L747.05,133.27L747.54,132.19L749.01,131.04L749.50,129.86L749.99,128.59L750.48,127.24L752.44,125.68L752.93,124.02L753.42,122.31L753.91,120.59L754.40,118.87L755.87,117.32L756.36,115.96L756.85,114.66L757.34,113.40L757.83,112.20L759.30,111.12L759.79,110.12L760.28,109.08L760.77,108.09L761.26,107.13L762.73,106.03L763.22,104.90L763.71,103.70L764.20,102.54L764.69,101.39L766.15,100.42L766.64,99.61L767.13,98.89L767.62,98.22L768.11,97.54L769.58,96.71L770.07,95.91L770.56,95.14L771.05,94.38L771.54,93.65L773.01,92.87L773.50,92.03L773.99,91.29L774.48,90.55L774.97,89.83L776.44,89.31L776.93,88.97L777.42,88.70L777.91,88.57L778.40,88.45L780.36,88.29L780.85,88.32L781.34,88.37L781.83,88.48L783.30,88.74L783.79,88.97L784.28,89.25L784.77,89.51L785.26,89.80L786.73,90.14L787.22,90.72L787.70,91.41L788.19,92.23L788.68,93.13L790.15,94.03L790.64,94.83L791.62,95.55L792.11,96.20L793.58,96.73L794.07,97.22L794.56,97.52L795.05,97.80L795.54,98.05L797.01,98.24L797.50,98.44L797.99,98.78L798.97,99.23L800.44,99.84L800.93,100.50L801.42,101.11L801.91,101.54L802.40,101.72L803.87,101.67L804.36,101.62L804.85,101.54L805.34,101.55L805.83,101.63L807.30,101.78L807.79,101.89L808.28,102.02L808.77,102.16L809.26,102.32L810.72,102.40L811.21,102.49L811.70,102.73L812.19,102.89L812.68,103.06L814.15,103.46L814.64,103.79L815.13,104.09L815.62,104.38L816.11,104.57L817.58,104.73L818.07,104.81L818.56,104.76L819.05,104.77L819.54,104.82L821.01,104.80L821.50,104.86L821.99,104.91L822.48,104.85L822.97,104.71L824.44,104.46L824.93,104.13L825.42,103.84L825.91,103.62L826.40,103.46L828.36,103.60L828.85,103.95L829.34,104.39L829.83,104.90L831.30,105.37L831.79,105.96L832.27,106.63L832.76,107.22L833.25,107.79L834.72,108.09L835.21,108.22L835.70,108.26L836.19,108.35L836.68,108.40L838.15,108.57L838.64,109.04L839.13,109.65L839.62,110.25L840.11,110.82L841.58,110.95L842.07,110.87L842.56,110.77L843.05,110.59L843.54,110.42L845.01,110.23L845.50,110.18L845.99,110.28L846.48,110.17L846.97,109.91L848.44,109.54L848.93,109.03L849.42,108.65L849.91,108.32L850.40,108.06L851.87,107.89L852.36,107.72L852.85,107.57L853.34,107.49L853.83,107.40L855.29,107.38L855.78,107.50L856.27,107.52L856.76,107.54L857.25,107.63L858.74,107.47L859.23,107.18L859.72,106.88L860.21,106.52L860.70,106.18L862.17,105.78L862.66,105.12L863.15,104.32L863.64,103.45L864.13,102.53L865.60,101.52L866.09,100.33L866.58,99.10L867.07,97.86L867.56,96.68L869.03,95.78L869.52,94.90L870.01,94.13L870.99,93.45L872.46,92.84L872.95,92.21L873.44,91.49L873.93,90.78L874.42,90.21L875.89,89.78L876.38,89.76L876.87,89.86L877.36,90.10L877.84,90.45L879.31,91.06L879.80,91.77L880.29,92.49L880.78,93.23L881.27,94.01L882.74,94.77L883.23,95.46L884.21,96.05L884.70,96.56L886.17,97.07L886.66,97.52L887.64,97.79L888.13,98.02L889.60,98.22L890.09,98.36L890.58,98.42L891.07,98.38L891.56,98.20L893.03,97.86L893.52,97.44L894.01,96.95L894.50,96.69L894.99,96.57L896.95,96.54L897.44,96.62L897.93,96.72L898.42,96.91L899.88,97.21L900.37,97.59L900.86,98.01L901.35,98.53L901.84,99.17L903.31,99.83L903.80,100.49L904.29,101.21L904.78,101.94L905.27,102.56L906.74,102.99L907.23,103.38L907.72,103.75L908.21,104.17L908.70,104.57L910.66,104.72L911.15,104.73L911.64,104.59L912.13,104.46L913.60,104.39L914.09,104.29L914.58,104.12L915.07,103.92L915.56,103.44L917.03,103.16L917.52,102.88L918.01,102.58L918.50,102.30L918.99,102.01L920.44,101.71L920.93,101.40L921.41,101.09L921.90,100.84L922.39,100.60L923.86,100.15L924.35,99.65L924.84,99.11L925.33,98.57L925.82,98.05L927.29,97.53L927.78,97.02L928.27,96.71L928.76,96.49L929.25,96.39L930.72,96.29L931.21,96.21L931.70,96.02L932.19,95.97L932.68,96.43L934.15,97.71L934.64,98.98L935.13,99.95L935.62,100.70L936.11,101.53L937.58,102.31L938.07,103.09L938.56,103.82L939.05,104.52L941.01,105.29L941.50,106.01L941.99,106.85L942.48,107.64L942.97,108.36L944.43,108.99L944.92,109.64L945.41,110.59L945.90,111.64L946.39,112.74L947.86,113.72L948.35,114.60L948.84,115.47L949.33,116.31L949.82,117.03L951.29,117.59L951.78,117.80L952.27,117.87L952.76,117.84L953.25,117.83L954.72,118.10L955.21,118.51L955.70,118.94L956.19,119.39L956.68,119.79L958.64,120.31L959.13,121.15L959.62,122.10L960.11,123.15L961.58,124.17L962.07,125.19L962.56,126.25L963.05,127.37L963.54,128.44L965.01,129.24L965.50,129.90L965.98,130.52L966.47,131.12L966.96,131.72L968.43,132.08L968.92,131.88L969.41,130.82L970.39,129.70L971.86,129.07L972.35,128.66L972.84,128.08L973.33,127.50L973.82,126.95L975.29,126.33L975.78,125.73L976.27,124.99L976.76,124.32L978.72,123.71L979.21,123.07L979.70,122.43L980.19,121.76L980.68,121.04L982.15,120.41L982.64,119.73L983.13,119.10L983.62,118.49L984.11,117.93L985.58,117.33L986.07,116.75L986.56,116.22L987.05,115.87L987.54,115.63L989.00,115.31L989.49,114.92L989.98,114.59L990.47,114.18L990.96,113.78L992.43,113.50L992.92,113.22L993.41,113.00L993.90,112.71L994.39,112.45L995.86,112.11L996.35,111.72L996.84,111.33L997.33,110.96L997.82,110.58L999.29,110.26L999.78,109.87L1000.27,109.72L1000.76,109.54L1001.25,109.39L1002.72,109.35L1003.21,109.19L1003.70,109.00L1004.19,108.79L1004.68,108.57L1006.64,108.46L1007.13,108.13L1007.62,107.81L1008.11,107.54L1009.58,107.23L1010.06,106.88L1010.55,106.62L1011.04,106.40L1011.53,106.22L1013.00,106.07L1013.49,105.81L1013.98,105.68L1014.47,105.63L1014.96,105.63L1016.43,105.53L1016.92,105.15L1017.41,104.64L1017.90,104.05L1018.39,103.47L1019.86,103.09L1020.35,102.73L1020.84,102.38L1021.33,102.13L1021.82,101.87L1023.29,101.61L1023.78,101.49L1024.27,101.54L1024.76,101.64L1025.25,101.77L1026.72,101.77L1027.21,101.72L1027.70,101.59L1028.19,101.41L1028.68,101.18L1030.15,100.81L1030.64,100.49L1031.13,100.11L1031.62,99.73L1032.11,99.37L1033.57,99.09L1034.06,98.84L1034.55,98.64L1035.04,98.45L1035.53,98.38L1037.02,98.41L1037.51,98.45L1038.00,98.53L1038.49,98.58L1038.98,98.57L1040.45,98.45L1040.94,98.24L1041.43,97.93L1041.92,97.52L1042.41,97.07L1043.88,96.80L1044.37,96.52L1044.86,96.33L1045.35,96.14L1045.84,95.99L1047.31,95.91L1047.80,95.87L1048.29,95.81L1049.27,95.60L1050.74,95.34L1051.23,95.17L1051.72,95.05L1052.21,95.09L1052.70,95.13L1054.17,95.23L1054.66,95.11L1055.15,94.85L1055.63,94.61L1056.12,94.36L1057.59,94.47L1058.08,94.63L1058.57,94.69L1059.06,94.61L1059.55,94.37L1061.02,94.02L1061.51,93.73L1062.00,93.38L1062.98,92.98L1064.45,92.53L1064.94,92.05L1065.43,91.65L1066.41,91.15L1067.88,90.56L1068.37,90.04L1068.86,89.55L1069.35,88.99L1069.84,88.41L1071.31,87.55L1071.80,86.64L1072.29,85.74L1072.78,84.82L1073.27,83.95L1075.23,83.02L1075.72,82.07L1076.21,81.16L1076.70,80.35L1078.16,79.55L1078.65,78.73L1079.14,77.84L1079.63,76.89L1080.12,75.84"/>
<path fill="none" stroke="#ff0000" stroke-width="2.2" stroke-linejoin="round" stroke-linecap="square" d="M109.85,385.72L111.32,386.00L111.81,386.30L112.30,386.56L112.79,386.76L113.28,387.05L115.24,387.67L115.73,388.37L116.22,389.04L116.71,389.72L118.18,390.35L118.67,391.01L119.16,391.70L119.64,392.45L120.13,393.27L121.60,394.34L122.09,395.44L122.58,396.52L123.07,397.50L123.56,398.34L125.03,399.39L125.52,400.42L126.01,401.41L126.50,402.35L126.99,403.21L128.46,404.10L128.95,404.92L129.44,405.60L129.93,406.31L130.42,407.03L131.89,407.75L132.38,408.14L132.87,408.53L133.36,408.91L133.85,409.36L135.32,409.86L135.81,410.59L136.30,411.28L136.79,411.90L137.28,412.46L138.75,412.89L139.24,413.32L139.73,413.73L140.22,414.06L140.71,414.44L142.20,414.63L142.69,414.65L143.17,414.68L143.66,414.69L144.15,414.89L145.62,414.46L146.11,413.82L146.60,413.21L147.09,412.47L147.58,411.57L149.05,410.55L149.54,409.50L150.03,408.45L150.52,407.48L151.01,406.31L152.48,404.76L152.97,403.01L153.46,401.34L154.44,399.89L155.91,398.43L156.40,396.80L156.89,394.99L157.38,393.03L157.87,391.06L159.34,388.97L159.83,386.88L160.32,384.93L160.81,382.92L161.30,380.92L162.77,379.00L163.26,377.85L163.75,376.88L164.24,375.95L164.73,375.18L166.19,374.69L166.68,374.28L167.17,373.94L167.66,373.50L169.62,373.08L170.11,372.82L170.60,372.99L171.09,373.18L173.05,373.25L173.54,372.90L174.03,372.27L174.52,371.61L175.01,371.07L176.48,370.49L176.97,369.91L177.46,369.29L177.95,368.68L178.44,368.13L180.40,367.71L180.89,367.23L181.38,366.61L181.87,365.99L183.34,365.62L183.83,365.34L184.32,365.11L184.81,364.79L185.30,364.55L186.77,364.18L187.25,363.78L187.74,363.27L188.23,362.54L188.72,361.72L190.19,360.66L190.68,359.61L191.17,358.80L191.66,358.15L192.15,357.51L194.11,356.78L194.60,356.21L195.09,355.69L195.58,355.27L197.05,354.57L197.54,353.74L198.03,352.65L198.52,351.57L199.01,350.59L200.48,349.29L200.97,347.61L201.46,345.77L201.95,343.68L202.44,341.50L203.91,339.30L204.40,337.27L204.89,335.20L205.38,333.21L205.87,331.36L207.32,329.77L207.81,328.51L208.30,327.52L208.78,326.76L209.27,326.05L210.74,325.60L211.23,325.13L211.72,324.54L212.21,324.00L212.70,323.42L214.17,323.16L214.66,322.95L215.15,322.87L215.64,322.85L217.60,322.82L218.09,323.03L218.58,323.36L219.07,323.83L219.56,324.51L221.03,325.32L221.52,326.03L222.01,326.81L222.50,327.67L222.99,328.53L224.46,329.50L224.95,330.26L225.44,331.03L225.93,331.46L226.42,331.64L227.89,331.60L228.38,331.25L228.87,330.90L229.36,330.62L229.85,330.35L231.31,330.03L231.80,329.62L232.29,329.11L232.78,328.63L233.27,328.09L234.74,327.41L235.23,326.73L235.72,326.17L236.21,325.54L236.70,324.74L238.17,323.57L238.66,322.59L239.15,321.68L239.64,320.87L240.13,320.08L241.60,319.20L242.09,318.35L242.58,317.36L243.07,316.56L243.56,315.64L245.52,314.83L246.01,313.97L246.50,313.14L246.99,312.38L248.46,311.52L248.95,310.80L249.44,310.16L249.93,309.62L250.42,309.07L251.89,308.54L252.38,308.27L252.87,308.08L253.35,308.01L253.84,307.89L255.31,307.54L255.80,307.47L256.29,307.21L256.78,306.89L257.27,306.50L258.74,306.18L259.23,305.85L259.72,305.59L260.21,305.23L260.70,304.87L262.66,304.94L263.15,305.18L263.64,305.50L264.13,305.89L265.60,306.35L266.09,306.97L266.58,307.74L267.07,308.68L267.56,309.79L269.03,311.24L269.52,312.63L270.01,313.55L270.50,314.30L270.99,314.90L272.46,315.34L272.95,316.14L273.44,316.93L273.93,317.68L274.42,318.38L275.88,319.15L276.37,319.88L276.86,320.82L277.35,321.65L277.84,322.61L279.31,323.43L279.80,323.92L280.29,324.41L280.78,324.99L281.27,325.58L282.74,326.13L283.23,326.69L283.72,327.23L284.21,327.72L284.70,328.24L286.17,328.11L286.66,328.02L287.15,328.12L287.64,328.19L288.13,328.14L289.60,328.40L290.09,328.61L290.58,328.87L291.07,329.15L291.56,329.46L293.52,329.65L294.01,329.85L294.50,329.81L294.99,329.96L296.46,329.98L296.95,329.87L297.44,329.72L297.92,329.61L298.41,329.62L299.88,329.54L300.37,329.28L300.86,328.79L301.35,328.05L301.84,327.13L303.31,325.89L303.80,325.00L304.29,324.15L304.78,323.34L305.27,322.51L306.74,321.44L307.23,320.27L307.72,319.03L308.21,317.71L308.70,316.25L310.17,314.70L310.66,313.15L311.15,311.55L311.64,309.97L312.13,308.31L313.60,306.63L314.09,305.11L314.58,303.56L315.07,301.91L315.56,300.12L317.03,298.35L317.52,296.82L318.01,295.51L318.50,294.33L318.99,293.14L320.45,292.20L320.94,291.19L321.43,290.25L321.92,289.32L322.41,288.40L323.90,287.62L324.39,286.93L324.88,286.58L325.37,286.20L325.86,285.93L327.33,285.78L327.82,285.61L328.31,285.62L328.80,285.95L329.29,286.37L330.76,286.43L331.25,286.61L331.74,286.93L332.72,287.39L334.19,288.04L334.68,288.87L335.17,289.64L335.66,290.27L336.15,290.78L337.62,291.19L338.11,291.34L338.60,291.52L339.09,291.53L339.58,291.69L341.05,292.09L341.54,292.63L342.03,293.17L342.52,293.49L343.01,294.00L344.47,294.62L344.96,295.08L345.45,295.43L345.94,295.57L347.90,295.34L348.39,294.98L348.88,295.13L349.37,295.27L351.33,294.95L351.82,294.28L352.31,293.21L352.80,291.96L353.29,290.67L354.76,289.19L355.25,287.77L355.74,286.40L356.23,285.16L356.72,283.81L358.68,282.65L359.17,281.33L359.66,279.98L360.15,278.64L361.62,277.03L362.11,275.25L362.60,273.23L363.09,271.07L363.58,268.98L365.05,266.97L365.53,264.80L366.02,262.71L366.51,260.51L367.00,258.25L368.47,255.86L368.96,253.87L369.45,252.02L369.94,250.36L370.43,248.75L371.90,247.33L372.39,246.19L372.88,245.17L373.37,244.37L373.86,243.68L375.82,243.23L376.31,242.63L376.80,241.93L377.29,240.99L378.76,239.45L379.25,237.91L379.74,236.29L380.23,234.61L380.72,232.91L382.19,231.10L382.68,229.33L383.17,227.66L383.66,226.05L384.15,224.60L385.60,223.56L386.09,222.69L386.58,222.09L387.06,221.68L387.55,221.12L389.02,220.06L389.51,218.55L390.00,216.91L390.49,215.11L390.98,213.30L392.45,211.60L392.94,209.69L393.43,207.77L393.92,206.03L394.41,204.39L395.88,203.24L396.37,202.21L396.86,201.41L397.35,200.77L397.84,200.07L399.31,199.78L399.80,199.48L400.29,199.17L400.78,198.75L402.74,198.05L403.23,197.03L403.72,195.83L404.21,194.52L404.70,193.45L406.17,193.39L406.66,193.76L407.15,194.08L407.64,194.39L408.13,194.63L409.59,194.34L410.08,193.78L410.57,193.04L411.06,192.27L411.55,191.32L413.02,191.20L413.51,191.14L414.00,190.95L414.49,190.68L414.98,190.27L416.45,189.66L416.94,188.80L417.43,187.80L417.92,186.90L418.41,186.09L419.88,185.58L420.37,184.76L420.86,183.80L421.35,182.38L421.84,180.62L423.80,178.04L424.29,175.48L424.78,173.11L425.27,170.83L426.74,168.43L427.23,166.40L427.72,164.35L428.21,162.68L428.70,161.36L430.17,160.90L430.66,159.99L431.15,159.76L431.63,160.25L432.12,161.34L434.08,162.14L434.57,163.66L435.06,165.52L435.55,167.66L437.02,169.24L437.51,170.60L438.00,172.08L438.49,173.92L438.98,176.19L440.94,179.11L441.43,181.98L441.92,185.04L442.41,188.24L443.88,191.59L444.37,195.16L444.86,199.00L445.35,203.03L445.84,207.14L447.31,210.69L447.80,213.88L448.29,216.28L448.78,218.06L449.27,219.22L450.74,219.28L451.23,218.71L451.72,218.41L452.21,217.71L452.70,216.69L454.16,215.60L454.65,215.41L455.14,215.66L455.63,215.78L456.12,215.76L457.59,215.29L458.08,214.36L458.57,213.45L459.06,212.26L459.55,210.92L461.02,209.18L461.51,207.19L462.00,205.12L462.49,203.02L462.98,200.86L464.45,198.60L464.94,196.34L465.43,194.12L465.92,192.04L466.41,189.98L467.88,188.59L468.37,187.67L468.86,187.10L469.35,186.76L469.84,186.44L471.80,185.73L472.29,184.72L472.78,183.39L473.27,182.03L474.74,180.64L475.23,179.41L475.72,178.27L476.20,177.40L476.69,176.80L478.16,176.63L478.65,176.81L479.14,177.17L479.63,177.91L480.12,178.90L481.59,180.77L482.08,182.91L482.57,184.92L483.06,186.73L483.55,188.43L485.02,189.51L485.51,190.07L486.00,189.94L486.49,189.40L486.98,188.79L488.45,188.31L488.94,187.88L489.43,187.35L489.92,186.89L490.41,186.67L491.88,186.36L492.37,185.88L492.86,185.21L493.35,184.16L493.84,182.91L495.31,181.09L495.80,179.03L496.29,176.86L496.78,174.36L497.27,171.43L498.73,167.61L499.22,163.92L499.71,160.43L500.20,157.11L500.69,153.90L502.18,151.10L502.67,148.58L503.16,146.41L503.65,144.45L504.14,142.34L505.61,140.22L506.10,138.22L506.59,136.47L507.08,134.76L507.57,133.00L509.04,131.48L509.53,129.96L510.02,128.78L511.00,128.07L512.47,127.86L512.96,127.50L513.45,127.27L513.94,127.18L514.43,126.87L515.90,126.91L516.39,127.68L516.88,128.68L517.37,129.88L517.86,131.22L519.33,131.94L519.82,133.26L520.31,134.55L520.80,135.80L521.28,137.12L522.75,137.67L523.24,138.79L523.73,139.81L524.22,140.66L524.71,141.45L526.67,142.20L527.16,143.28L527.65,144.31L528.14,145.28L530.10,146.28L530.59,147.00L531.08,147.86L531.57,148.61L533.04,149.03L533.53,149.25L534.02,148.76L534.51,147.91L535.00,146.81L536.96,145.74L537.45,144.34L537.94,143.35L538.43,142.33L539.90,141.39L540.39,140.15L540.88,138.65L541.37,137.46L541.86,136.45L543.33,136.10L543.81,135.63L544.30,135.31L544.79,135.22L545.28,135.27L546.75,135.30L547.24,134.97L547.73,134.28L548.22,133.37L548.71,132.47L550.18,131.94L550.67,131.57L551.16,131.48L551.65,131.80L552.14,132.53L554.10,133.42L554.59,134.57L555.08,135.72L555.57,136.73L557.04,137.61L557.53,138.60L558.02,139.61L558.51,140.74L559.00,141.91L560.47,142.86L560.96,143.53L561.45,144.41L561.94,145.31L562.43,146.24L563.88,147.19L564.37,148.67L564.85,150.48L565.34,152.62L565.83,154.77L567.30,156.48L567.79,158.43L568.28,160.49L568.77,162.22L569.26,163.64L570.73,164.26L571.22,164.63L571.71,164.68L572.20,164.65L572.69,164.48L574.16,163.93L574.65,163.50L575.14,163.31L575.63,163.24L577.59,162.83L578.08,162.50L578.57,161.95L579.06,161.19L579.55,160.31L581.02,159.37L581.51,158.10L582.00,156.62L582.49,154.97L582.98,153.21L584.45,151.66L584.94,150.44L585.43,148.93L585.92,147.44L586.41,146.14L587.87,145.17L588.36,145.06L588.85,145.59L589.34,146.21L589.83,146.75L591.30,147.55L591.79,148.67L592.28,149.86L592.77,150.97L593.26,152.20L594.73,153.83L595.22,155.36L595.71,156.87L596.20,158.31L596.69,159.71L598.16,161.08L598.65,162.48L599.14,163.87L599.63,165.28L600.12,166.60L602.08,168.06L602.57,169.65L603.06,171.21L603.55,172.49L605.02,173.30L605.51,173.58L606.00,173.39L606.49,172.81L606.98,172.29L608.45,172.17L608.94,172.06L609.42,172.02L609.91,171.88L610.40,171.80L612.36,171.65L612.85,171.32L613.34,171.28L613.83,171.44L615.30,171.41L615.79,171.38L616.28,171.17L616.77,170.84L617.26,170.35L618.73,169.79L619.71,169.32L620.20,168.52L620.69,167.50L622.16,166.41L622.65,165.36L623.14,164.66L623.63,164.21L624.12,163.96L625.59,163.34L626.08,162.75L626.57,161.87L627.06,160.89L627.55,159.85L629.02,158.79L629.51,157.50L630.00,156.14L630.49,154.59L630.98,152.90L632.44,151.07L632.93,149.49L633.42,147.95L633.91,146.59L634.40,145.29L635.87,144.01L636.36,142.64L636.85,141.18L637.34,139.61L637.83,138.11L639.30,136.91L639.79,135.94L640.28,135.09L640.77,134.14L641.26,133.04L642.73,132.38L643.22,131.77L643.71,131.18L644.20,130.67L644.69,130.12L646.16,129.51L646.65,128.92L647.14,128.18L647.63,127.50L648.12,126.76L650.08,126.04L650.57,125.26L651.06,124.39L651.55,123.47L653.02,122.53L653.51,121.52L653.99,120.62L654.48,119.78L654.97,119.12L656.44,118.78L656.93,118.44L657.42,118.16L657.91,117.74L658.40,117.29L659.87,116.61L660.36,115.69L660.85,114.71L661.34,113.83L661.83,113.26L663.30,113.17L663.79,113.36L664.28,113.86L664.77,114.52L665.26,115.15L666.73,115.63L667.22,116.21L667.71,116.79L668.20,117.33L668.69,117.74L670.16,117.88L670.65,118.05L671.14,118.20L671.63,118.45L672.12,118.74L673.59,119.22L674.08,119.72L674.57,120.22L675.06,120.92L675.55,121.76L677.01,122.89L677.50,123.93L677.99,124.83L678.48,125.69L678.97,126.45L680.46,127.11L680.95,127.71L681.44,128.26L681.93,128.84L682.42,129.48L683.89,130.06L684.38,130.62L684.87,131.21L685.36,132.09L685.85,133.13L687.32,134.24L687.81,135.50L688.30,136.79L689.28,137.94L690.75,139.16L691.24,139.93L691.73,140.51L692.22,140.97L692.71,141.36L694.18,141.88L694.67,142.48L695.16,143.31L695.65,144.28L696.14,145.14L697.61,146.03L698.10,146.38L698.59,146.35L699.08,146.00L699.56,145.58L701.03,145.03L701.52,144.74L702.01,144.44L702.50,144.12L702.99,143.58L704.95,143.13L705.44,142.93L705.93,142.72L706.42,142.48L708.38,142.12L708.87,141.76L709.36,141.59L709.85,141.55L711.32,141.81L711.81,142.13L712.30,142.24L712.79,142.22L713.28,142.14L715.24,142.24L715.73,142.50L716.22,142.61L716.71,142.94L718.18,143.50L718.67,144.22L719.16,144.87L719.65,145.47L720.14,145.75L721.60,145.92L722.09,146.06L722.58,146.22L723.07,146.28L723.56,146.35L725.03,146.51L725.52,146.71L726.01,147.01L726.50,147.17L726.99,147.16L728.46,147.11L728.95,146.62L729.44,145.97L729.93,145.24L730.42,144.52L732.38,143.72L732.87,142.68L733.36,141.52L733.85,140.42L735.32,139.25L735.81,138.10L736.30,136.92L736.79,135.79L737.28,134.86L738.75,134.33L739.24,133.81L739.73,133.28L740.22,132.73L740.71,132.06L742.16,131.22L742.65,130.18L743.13,128.93L743.62,127.65L744.11,126.38L745.58,124.83L746.07,123.22L746.56,121.74L747.05,120.23L747.54,118.79L749.01,117.21L749.50,115.66L749.99,114.14L750.48,112.60L752.44,110.57L752.93,108.42L753.42,106.15L753.91,103.90L754.40,101.58L755.87,99.41L756.36,97.21L756.85,95.15L757.34,93.14L757.83,91.29L759.30,89.80L759.79,88.65L760.28,87.59L760.77,86.87L761.26,86.23L762.73,85.30L763.22,84.58L763.71,83.78L764.20,82.94L764.69,82.16L766.15,81.66L766.64,81.62L767.13,81.73L767.62,81.89L768.11,82.08L769.58,82.45L770.07,82.99L770.56,83.73L771.05,84.45L771.54,85.30L773.01,85.92L773.50,86.44L773.99,87.01L774.48,87.55L774.97,87.94L776.44,88.39L776.93,88.86L777.42,89.39L777.91,89.83L778.40,90.23L780.36,90.85L780.85,91.62L781.34,92.52L781.83,93.59L783.30,94.87L783.79,95.83L784.28,96.43L784.77,96.84L785.26,97.27L786.73,97.76L787.22,98.53L787.70,99.39L788.19,100.27L788.68,101.36L790.15,102.31L790.64,103.29L791.62,104.19L792.11,104.92L793.58,105.45L794.07,106.02L794.56,106.19L795.05,106.27L795.54,106.25L797.01,106.16L797.50,106.16L797.99,106.24L798.97,106.35L800.44,106.68L800.93,106.93L801.42,106.86L801.91,106.75L802.40,106.50L803.87,106.01L804.36,105.47L804.85,104.82L805.34,104.08L805.83,103.37L807.30,102.78L807.79,101.92L808.28,101.23L808.77,100.53L809.26,99.94L810.72,99.37L811.21,99.01L811.70,98.92L812.19,99.07L812.68,99.34L814.15,100.15L814.64,100.90L815.13,101.50L815.62,102.00L816.11,102.25L817.58,102.24L818.07,102.16L818.56,102.13L819.05,102.26L819.54,102.59L821.01,103.05L821.50,103.71L821.99,104.46L822.48,105.07L822.97,105.50L824.44,105.59L824.93,105.78L825.42,105.91L825.91,106.15L826.40,106.42L828.36,107.26L828.85,108.32L829.34,109.30L829.83,110.17L831.30,110.83L831.79,111.20L832.27,111.78L832.76,112.38L833.25,113.00L834.72,113.34L835.21,113.62L835.70,113.79L836.19,113.99L836.68,113.95L838.15,113.97L838.64,114.44L839.13,114.99L839.62,115.45L840.11,115.97L841.58,115.81L842.07,115.55L842.56,115.16L843.05,114.66L843.54,114.09L845.01,113.44L845.50,112.50L845.99,111.62L846.48,110.42L846.97,109.05L848.44,107.64L848.93,106.24L849.42,104.90L849.91,103.65L850.40,102.49L851.87,101.81L852.36,101.19L852.85,100.71L853.34,100.36L853.83,100.22L855.29,100.15L855.78,99.92L856.27,99.42L856.76,98.99L857.25,98.65L858.74,98.49L859.23,98.16L859.72,97.94L860.21,97.74L860.70,97.61L862.17,97.47L862.66,97.09L863.15,96.37L863.64,95.83L864.13,95.36L865.60,94.73L866.09,93.76L866.58,92.64L867.07,91.40L867.56,90.19L869.03,89.07L869.52,87.92L870.01,86.86L870.99,85.86L872.46,84.77L872.95,83.59L873.44,82.39L873.93,81.45L874.42,80.74L875.89,80.21L876.38,80.33L876.87,80.87L877.36,81.57L877.84,82.48L879.31,83.81L879.80,85.37L880.29,87.18L880.78,89.39L881.27,91.49L882.74,93.48L883.23,95.49L884.21,97.63L884.70,99.77L886.17,102.01L886.66,104.12L887.64,105.78L888.13,107.40L889.60,108.85L890.09,110.12L890.58,111.34L891.07,112.44L891.56,113.28L893.03,113.53L893.52,113.41L894.01,112.94L894.50,112.30L894.99,111.52L896.95,110.77L897.44,110.02L897.93,108.89L898.42,107.69L899.88,106.47L900.37,105.03L900.86,103.78L901.35,102.81L901.84,102.10L903.31,101.26L903.80,100.44L904.29,99.64L904.78,98.99L905.27,98.56L906.74,97.81L907.23,97.14L907.72,96.60L908.21,96.22L908.70,95.92L910.66,95.37L911.15,95.14L911.64,94.99L912.13,95.18L913.60,95.69L914.09,96.27L914.58,96.67L915.07,97.03L915.56,97.20L917.03,97.82L917.52,98.48L918.01,99.32L918.50,100.02L918.99,100.41L920.44,100.52L920.93,100.71L921.41,100.93L921.90,101.23L922.39,101.39L923.86,100.91L924.35,100.68L924.84,100.26L925.33,99.72L925.82,99.06L927.29,98.30L927.78,97.83L928.27,97.44L928.76,97.16L929.25,96.76L930.72,96.06L931.21,95.31L931.70,94.54L932.19,94.06L932.68,94.82L934.15,96.75L934.64,98.62L935.13,99.73L935.62,100.53L936.11,101.79L937.58,103.24L938.07,104.60L938.56,105.86L939.05,106.94L941.01,108.32L941.50,110.24L941.99,112.16L942.48,114.15L942.97,116.13L944.43,118.05L944.92,120.10L945.41,122.47L945.90,124.97L946.39,127.43L947.86,129.81L948.35,132.25L948.84,134.75L949.33,137.19L949.82,139.11L951.29,139.45L951.78,137.96L952.27,136.21L952.76,135.07L953.25,134.23L954.72,133.51L955.21,132.88L955.70,132.38L956.19,132.01L956.68,131.72L958.64,131.38L959.13,131.13L959.62,131.13L960.11,131.22L961.58,131.29L962.07,131.42L962.56,131.48L963.05,131.34L963.54,130.98L965.01,130.12L965.50,129.06L965.98,127.85L966.47,126.54L966.96,125.30L968.43,124.11L968.92,123.36L969.41,122.75L970.39,122.24L971.86,122.13L972.35,122.15L972.84,121.69L973.33,121.17L973.82,120.56L975.29,119.68L975.78,118.78L976.27,117.64L976.76,116.54L978.72,115.33L979.21,113.94L979.70,112.59L980.19,111.13L980.68,109.63L982.15,108.51L982.64,107.50L983.13,107.11L983.62,106.94L984.11,107.03L985.58,107.13L986.07,107.22L986.56,107.34L987.05,107.39L987.54,107.52L989.00,107.39L989.49,106.70L989.98,106.04L990.47,105.65L990.96,105.36L992.43,105.36L992.92,105.68L993.41,106.11L993.90,106.65L994.39,107.23L995.86,107.71L996.35,108.31L996.84,108.87L997.33,109.57L997.82,110.30L999.29,110.74L999.78,110.95L1000.27,111.02L1000.76,110.81L1001.25,110.42L1002.72,110.19L1003.21,109.77L1003.70,109.26L1004.19,108.77L1004.68,108.18L1006.64,108.03L1007.13,108.05L1007.62,108.05L1008.11,107.94L1009.58,107.60L1010.06,107.02L1010.55,106.21L1011.04,105.36L1011.53,104.50L1013.00,103.61L1013.49,102.72L1013.98,101.91L1014.47,101.27L1014.96,100.60L1016.43,99.66L1016.92,98.60L1017.41,97.39L1017.90,96.17L1018.39,95.25L1019.86,94.87L1020.35,94.49L1020.84,94.25L1021.33,94.27L1021.82,94.28L1023.29,94.32L1023.78,94.39L1024.27,94.49L1024.76,94.72L1025.25,95.10L1026.72,95.51L1027.21,96.01L1027.70,96.59L1028.19,97.11L1028.68,97.53L1030.15,97.76L1030.64,98.03L1031.13,98.10L1031.62,98.00L1032.11,97.97L1033.57,98.42L1034.06,99.01L1034.55,99.86L1035.04,100.71L1035.53,101.51L1037.02,102.03L1037.51,102.47L1038.00,102.83L1038.49,102.88L1038.98,102.82L1040.45,102.46L1040.94,101.94L1041.43,101.18L1041.92,100.08L1042.41,98.79L1043.88,97.73L1044.37,96.65L1044.86,95.66L1045.35,94.73L1045.84,93.97L1047.31,93.48L1047.80,93.11L1048.29,92.88L1049.27,92.51L1050.74,91.95L1051.23,91.10L1051.72,90.25L1052.21,89.45L1052.70,88.64L1054.17,87.96L1054.66,87.15L1055.15,86.16L1055.63,85.31L1056.12,84.73L1057.59,85.05L1058.08,85.72L1058.57,86.36L1059.06,86.96L1059.55,87.59L1061.02,88.24L1061.51,88.69L1062.00,89.06L1062.98,89.30L1064.45,89.36L1064.94,89.17L1065.43,88.85L1066.41,88.24L1067.88,87.33L1068.37,86.67L1068.86,86.23L1069.35,85.96L1069.84,85.66L1071.31,84.78L1071.80,83.78L1072.29,82.65L1072.78,81.62L1073.27,80.88L1075.23,79.92L1075.72,78.62L1076.21,76.59L1076.70,74.34L1078.16,72.19L1078.65,69.99L1079.14,67.63L1079.63,65.17L1080.12,62.66"/>
<path fill="none" stroke="#800080" stroke-width="2.2" stroke-linejoin="round" stroke-linecap="square" d="M235.23,368.42L235.72,368.08L236.21,367.73L236.70,367.35L238.17,366.95L238.66,366.56L239.15,366.20L239.64,365.85L240.13,365.50L241.60,365.16L242.09,364.82L242.58,364.49L243.07,364.16L243.56,363.82L245.52,363.47L246.01,363.08L246.50,362.69L246.99,362.28L248.46,361.86L248.95,361.42L249.44,360.99L249.93,360.55L250.42,360.10L251.89,359.65L252.38,359.22L252.87,358.81L253.35,358.42L253.84,358.02L255.31,357.58L255.80,357.13L256.29,356.67L256.78,356.19L257.27,355.71L258.74,355.25L259.23,354.78L259.72,354.32L260.21,353.86L260.70,353.40L262.66,352.98L263.15,352.55L263.64,352.07L264.13,351.59L265.60,351.11L266.09,350.64L266.58,350.19L267.07,349.74L267.56,349.32L269.03,348.93L269.52,348.52L270.01,348.11L270.50,347.68L270.99,347.26L272.46,346.84L272.95,346.40L273.44,345.96L273.93,345.51L274.42,345.07L275.88,344.64L276.37,344.21L276.86,343.80L277.35,343.39L277.84,342.95L279.31,342.52L279.80,342.08L280.29,341.63L280.78,341.18L281.27,340.71L282.74,340.25L283.23,339.81L283.72,339.38L284.21,338.97L284.70,338.60L286.17,338.20L286.66,337.78L287.15,337.35L287.64,336.99L288.13,336.65L289.60,336.33L290.09,336.01L290.58,335.71L291.07,335.42L291.56,335.15L293.52,334.88L294.01,334.60L294.50,334.33L294.99,334.13L296.46,333.92L296.95,333.68L297.44,333.40L297.92,333.12L298.41,332.87L299.88,332.63L300.37,332.37L300.86,332.12L301.35,331.86L301.84,331.60L303.31,331.32L303.80,331.05L304.29,330.78L304.78,330.49L305.27,330.16L306.74,329.81L307.23,329.46L307.72,329.08L308.21,328.69L308.70,328.26L310.17,327.85L310.66,327.43L311.15,327.00L311.64,326.57L312.13,326.14L313.60,325.70L314.09,325.25L314.58,324.82L315.07,324.42L315.56,324.03L317.03,323.63L317.52,323.26L318.01,322.91L318.50,322.58L318.99,322.25L320.45,321.92L320.94,321.58L321.43,321.25L321.92,320.92L322.41,320.56L323.90,320.16L324.39,319.75L324.88,319.36L325.37,318.95L325.86,318.53L327.33,318.14L327.82,317.75L328.31,317.39L328.80,317.08L329.29,316.81L330.76,316.51L331.25,316.22L331.74,315.93L332.72,315.67L334.19,315.44L334.68,315.23L335.17,315.03L335.66,314.83L336.15,314.61L337.62,314.42L338.11,314.22L338.60,314.03L339.09,313.84L339.58,313.65L341.05,313.51L341.54,313.38L342.03,313.27L342.52,313.18L343.01,313.11L344.47,313.04L344.96,312.96L345.45,312.87L345.94,312.77L347.90,312.68L348.39,312.56L348.88,312.43L349.37,312.28L351.33,312.06L351.82,311.80L352.31,311.49L352.80,311.18L353.29,310.89L354.76,310.58L355.25,310.26L355.74,309.92L356.23,309.59L356.72,309.25L358.68,308.92L359.17,308.57L359.66,308.22L360.15,307.89L361.62,307.52L362.11,307.13L362.60,306.70L363.09,306.27L363.58,305.83L365.05,305.38L365.53,304.91L366.02,304.43L366.51,303.94L367.00,303.43L368.47,302.93L368.96,302.43L369.45,301.95L369.94,301.47L370.43,301.01L371.90,300.58L372.39,300.15L372.88,299.75L373.37,299.36L373.86,299.01L375.82,298.67L376.31,298.33L376.80,297.98L377.29,297.60L378.76,297.15L379.25,296.66L379.74,296.16L380.23,295.67L380.72,295.15L382.19,294.59L382.68,294.02L383.17,293.43L383.66,292.85L384.15,292.29L385.60,291.77L386.09,291.25L386.58,290.78L387.06,290.34L387.55,289.90L389.02,289.41L389.51,288.88L390.00,288.34L390.49,287.80L390.98,287.27L392.45,286.76L392.94,286.25L393.43,285.73L393.92,285.19L394.41,284.63L395.88,284.03L396.37,283.43L396.86,282.87L397.35,282.30L397.84,281.72L399.31,281.16L399.80,280.60L400.29,280.02L400.78,279.43L402.74,278.82L403.23,278.22L403.72,277.60L404.21,276.96L404.70,276.36L406.17,275.89L406.66,275.39L407.15,274.85L407.64,274.28L408.13,273.67L409.59,273.01L410.08,272.29L410.57,271.51L411.06,270.72L411.55,269.95L413.02,269.30L413.51,268.62L414.00,267.95L414.49,267.26L414.98,266.55L416.45,265.82L416.94,265.06L417.43,264.27L417.92,263.48L418.41,262.68L419.88,261.90L420.37,261.07L420.86,260.23L421.35,259.35L421.84,258.47L423.80,257.60L424.29,256.70L424.78,255.80L425.27,254.87L426.74,253.92L427.23,252.92L427.72,251.88L428.21,250.90L428.70,249.96L430.17,249.13L430.66,248.35L431.15,247.64L431.63,247.00L432.12,246.42L434.08,245.81L434.57,245.22L435.06,244.65L435.55,244.11L437.02,243.52L437.51,242.89L438.00,242.26L438.49,241.65L438.98,241.11L440.94,240.65L441.43,240.14L441.92,239.63L442.41,239.14L443.88,238.71L444.37,238.29L444.86,237.89L445.35,237.51L445.84,237.15L447.31,236.74L447.80,236.31L448.29,235.87L448.78,235.41L449.27,234.98L450.74,234.51L451.23,234.02L451.72,233.51L452.21,233.01L452.70,232.52L454.16,232.06L454.65,231.62L455.14,231.22L455.63,230.81L456.12,230.42L457.59,230.03L458.08,229.62L458.57,229.20L459.06,228.77L459.55,228.34L461.02,227.88L461.51,227.38L462.00,226.87L462.49,226.38L462.98,225.86L464.45,225.31L464.94,224.71L465.43,224.11L465.92,223.50L466.41,222.92L467.88,222.36L468.37,221.80L468.86,221.27L469.35,220.77L469.84,220.25L471.80,219.73L472.29,219.17L472.78,218.57L473.27,217.94L474.74,217.38L475.23,216.80L475.72,216.21L476.20,215.63L476.69,215.04L478.16,214.50L478.65,213.95L479.14,213.42L479.63,212.94L480.12,212.52L481.59,212.23L482.08,211.90L482.57,211.55L483.06,211.15L483.55,210.71L485.02,210.20L485.51,209.63L486.00,209.01L486.49,208.35L486.98,207.68L488.45,207.06L488.94,206.42L489.43,205.77L489.92,205.13L490.41,204.52L491.88,203.90L492.37,203.23L492.86,202.60L493.35,201.97L493.84,201.35L495.31,200.74L495.80,200.09L496.29,199.47L496.78,198.86L497.27,198.24L498.73,197.62L499.22,196.99L499.71,196.35L500.20,195.71L500.69,195.03L502.18,194.33L502.67,193.65L503.16,192.98L503.65,192.32L504.14,191.66L505.61,191.01L506.10,190.36L506.59,189.76L507.08,189.15L507.57,188.58L509.04,188.02L509.53,187.45L510.02,186.90L511.00,186.40L512.47,185.95L512.96,185.46L513.45,184.95L513.94,184.45L514.43,183.94L515.90,183.50L516.39,183.06L516.88,182.64L517.37,182.24L517.86,181.87L519.33,181.47L519.82,181.14L520.31,180.83L520.80,180.56L521.28,180.31L522.75,180.04L523.24,179.79L523.73,179.52L524.22,179.27L524.71,179.00L526.67,178.74L527.16,178.42L527.65,178.09L528.14,177.73L530.10,177.38L530.59,177.06L531.08,176.82L531.57,176.58L533.04,176.31L533.53,176.03L534.02,175.73L534.51,175.40L535.00,175.06L536.96,174.72L537.45,174.37L537.94,174.03L538.43,173.71L539.90,173.37L540.39,173.03L540.88,172.66L541.37,172.30L541.86,171.95L543.33,171.64L543.81,171.35L544.30,171.08L544.79,170.87L545.28,170.68L546.75,170.47L547.24,170.23L547.73,169.91L548.22,169.49L548.71,169.08L550.18,168.70L550.67,168.31L551.16,167.97L551.65,167.73L552.14,167.54L554.10,167.34L554.59,167.23L555.08,167.13L555.57,166.92L557.04,166.66L557.53,166.46L558.02,166.26L558.51,166.06L559.00,165.92L560.47,165.74L560.96,165.63L561.45,165.54L561.94,165.47L562.43,165.42L563.88,165.42L564.37,165.51L564.85,165.65L565.34,165.82L565.83,165.98L567.30,166.06L567.79,166.22L568.28,166.38L568.77,166.57L569.26,166.77L570.73,166.89L571.22,167.01L571.71,167.08L572.20,167.04L572.69,166.93L574.16,166.65L574.65,166.34L575.14,165.98L575.63,165.68L577.59,165.26L578.08,164.86L578.57,164.41L579.06,164.04L579.55,163.69L581.02,163.34L581.51,163.00L582.00,162.64L582.49,162.22L582.98,161.82L584.45,161.41L584.94,161.00L585.43,160.56L585.92,160.11L586.41,159.66L587.87,159.24L588.36,158.89L588.85,158.65L589.34,158.41L589.83,158.15L591.30,157.92L591.79,157.69L592.28,157.54L592.77,157.40L593.26,157.31L594.73,157.25L595.22,157.17L595.71,157.07L596.20,156.91L596.69,156.72L598.16,156.54L598.65,156.38L599.14,156.24L599.63,156.12L600.12,155.99L602.08,155.91L602.57,155.86L603.06,155.83L603.55,155.79L605.02,155.69L605.51,155.58L606.00,155.48L606.49,155.44L606.98,155.41L608.45,155.41L608.94,155.43L609.42,155.46L609.91,155.45L610.40,155.42L612.36,155.37L612.85,155.31L613.34,155.28L613.83,155.27L615.30,155.23L615.79,155.20L616.28,155.17L616.77,155.14L617.26,155.09L618.73,155.03L619.71,154.95L620.20,154.86L620.69,154.70L622.16,154.50L622.65,154.28L623.14,154.01L623.63,153.72L624.12,153.35L625.59,152.97L626.08,152.62L626.57,152.29L627.06,151.97L627.55,151.73L629.02,151.52L629.51,151.35L630.00,151.20L630.49,151.03L630.98,150.85L632.44,150.66L632.93,150.50L633.42,150.34L633.91,150.17L634.40,150.01L635.87,149.86L636.36,149.72L636.85,149.60L637.34,149.46L637.83,149.35L639.30,149.26L639.79,149.19L640.28,149.12L640.77,149.08L641.26,149.06L642.73,149.04L643.22,149.05L643.71,149.07L644.20,149.09L644.69,149.13L646.16,149.16L646.65,149.18L647.14,149.19L647.63,149.19L648.12,149.20L650.08,149.18L650.57,149.14L651.06,149.10L651.55,149.04L653.02,148.99L653.51,148.91L653.99,148.82L654.48,148.70L654.97,148.55L656.44,148.43L656.93,148.35L657.42,148.27L657.91,148.17L658.40,148.01L659.87,147.77L660.36,147.51L660.85,147.23L661.34,146.95L661.83,146.75L663.30,146.59L663.79,146.46L664.28,146.35L664.77,146.25L665.26,146.17L666.73,146.05L667.22,145.96L667.71,145.86L668.20,145.75L668.69,145.65L670.16,145.48L670.65,145.30L671.14,145.11L671.63,144.91L672.12,144.71L673.59,144.55L674.08,144.44L674.57,144.39L675.06,144.37L675.55,144.38L677.01,144.40L677.50,144.42L677.99,144.43L678.48,144.44L678.97,144.47L680.46,144.53L680.95,144.62L681.44,144.75L681.93,144.92L682.42,145.08L683.89,145.17L684.38,145.22L684.87,145.27L685.36,145.32L685.85,145.37L687.32,145.34L687.81,145.35L688.30,145.37L689.28,145.41L690.75,145.47L691.24,145.54L691.73,145.60L692.22,145.66L692.71,145.71L694.18,145.73L694.67,145.74L695.16,145.75L695.65,145.73L696.14,145.70L697.61,145.70L698.10,145.70L698.59,145.66L699.08,145.62L699.56,145.59L701.03,145.53L701.52,145.48L702.01,145.42L702.50,145.32L702.99,145.20L704.95,145.08L705.44,144.90L705.93,144.70L706.42,144.47L708.38,144.20L708.87,143.96L709.36,143.78L709.85,143.59L711.32,143.43L711.81,143.30L712.30,143.17L712.79,143.10L713.28,143.04L715.24,143.03L715.73,143.04L716.22,143.09L716.71,143.18L718.18,143.28L718.67,143.35L719.16,143.41L719.65,143.46L720.14,143.47L721.60,143.50L722.09,143.50L722.58,143.50L723.07,143.50L723.56,143.49L725.03,143.50L725.52,143.50L726.01,143.48L726.50,143.45L726.99,143.43L728.46,143.42L728.95,143.39L729.44,143.34L729.93,143.24L730.42,143.08L732.38,142.87L732.87,142.65L733.36,142.44L733.85,142.26L735.32,142.07L735.81,141.87L736.30,141.65L736.79,141.41L737.28,141.14L738.75,140.90L739.24,140.67L739.73,140.43L740.22,140.19L740.71,139.93L742.16,139.64L742.65,139.34L743.13,139.01L743.62,138.67L744.11,138.30L745.58,137.88L746.07,137.48L746.56,137.10L747.05,136.76L747.54,136.45L749.01,136.12L749.50,135.78L749.99,135.43L750.48,135.05L752.44,134.63L752.93,134.17L753.42,133.71L753.91,133.22L754.40,132.71L755.87,132.21L756.36,131.70L756.85,131.19L757.34,130.70L757.83,130.23L759.30,129.81L759.79,129.43L760.28,129.05L760.77,128.70L761.26,128.34L762.73,127.95L763.22,127.58L763.71,127.21L764.20,126.85L764.69,126.51L766.15,126.19L766.64,125.88L767.13,125.63L767.62,125.38L768.11,125.13L769.58,124.88L770.07,124.62L770.56,124.38L771.05,124.14L771.54,123.91L773.01,123.68L773.50,123.45L773.99,123.24L774.48,123.01L774.97,122.78L776.44,122.59L776.93,122.43L777.42,122.28L777.91,122.15L778.40,122.03L780.36,121.92L780.85,121.82L781.34,121.72L781.83,121.62L783.30,121.54L783.79,121.45L784.28,121.37L784.77,121.25L785.26,121.13L786.73,121.02L787.22,120.92L787.70,120.84L788.19,120.78L788.68,120.75L790.15,120.74L790.64,120.71L791.62,120.69L792.11,120.65L793.58,120.60L794.07,120.55L794.56,120.49L795.05,120.45L795.54,120.43L797.01,120.41L797.50,120.39L797.99,120.36L798.97,120.32L800.44,120.31L800.93,120.27L801.42,120.24L801.91,120.19L802.40,120.16L803.87,120.10L804.36,120.03L804.85,119.95L805.34,119.83L805.83,119.67L807.30,119.52L807.79,119.32L808.28,119.13L808.77,118.94L809.26,118.78L810.72,118.61L811.21,118.43L811.70,118.30L812.19,118.21L812.68,118.19L814.15,118.25L814.64,118.30L815.13,118.32L815.62,118.32L816.11,118.26L817.58,118.18L818.07,118.07L818.56,117.94L819.05,117.81L819.54,117.68L821.01,117.54L821.50,117.45L821.99,117.35L822.48,117.21L822.97,117.02L824.44,116.81L824.93,116.57L825.42,116.32L825.91,116.08L826.40,115.88L828.36,115.74L828.85,115.63L829.34,115.51L829.83,115.40L831.30,115.32L831.79,115.27L832.27,115.23L832.76,115.18L833.25,115.11L834.72,114.99L835.21,114.87L835.70,114.73L836.19,114.58L836.68,114.38L838.15,114.17L838.64,113.99L839.13,113.84L839.62,113.69L840.11,113.51L841.58,113.26L842.07,113.01L842.56,112.77L843.05,112.51L843.54,112.27L845.01,112.03L845.50,111.81L845.99,111.62L846.48,111.42L846.97,111.19L848.44,110.97L848.93,110.76L849.42,110.59L849.91,110.43L850.40,110.26L851.87,110.08L852.36,109.88L852.85,109.65L853.34,109.41L853.83,109.18L855.29,108.97L855.78,108.77L856.27,108.54L856.76,108.31L857.25,108.07L858.74,107.76L859.23,107.40L859.72,107.04L860.21,106.67L860.70,106.34L862.17,106.05L862.66,105.76L863.15,105.46L863.64,105.18L864.13,104.88L865.60,104.57L866.09,104.22L866.58,103.88L867.07,103.53L867.56,103.19L869.03,102.87L869.52,102.54L870.01,102.23L870.99,101.95L872.46,101.68L872.95,101.41L873.44,101.16L873.93,100.95L874.42,100.77L875.89,100.60L876.38,100.45L876.87,100.30L877.36,100.18L877.84,100.07L879.31,100.02L879.80,99.98L880.29,99.98L880.78,100.03L881.27,100.08L882.74,100.12L883.23,100.16L884.21,100.21L884.70,100.30L886.17,100.39L886.66,100.47L887.64,100.55L888.13,100.62L889.60,100.68L890.09,100.75L890.58,100.81L891.07,100.87L891.56,100.92L893.03,100.93L893.52,100.93L894.01,100.96L894.50,100.99L894.99,101.03L896.95,101.10L897.44,101.18L897.93,101.27L898.42,101.35L899.88,101.46L900.37,101.58L900.86,101.70L901.35,101.80L901.84,101.90L903.31,101.98L903.80,102.05L904.29,102.12L904.78,102.23L905.27,102.35L906.74,102.43L907.23,102.51L907.72,102.61L908.21,102.68L908.70,102.71L910.66,102.68L911.15,102.64L911.64,102.60L912.13,102.60L913.60,102.64L914.09,102.66L914.58,102.68L915.07,102.70L915.56,102.73L917.03,102.83L917.52,102.95L918.01,103.11L918.50,103.27L918.99,103.36L920.44,103.41L920.93,103.45L921.41,103.49L921.90,103.55L922.39,103.61L923.86,103.57L924.35,103.50L924.84,103.40L925.33,103.27L925.82,103.13L927.29,103.00L927.78,102.85L928.27,102.71L928.76,102.57L929.25,102.43L930.72,102.26L931.21,102.08L931.70,101.87L932.19,101.71L932.68,101.71L934.15,101.94L934.64,102.20L935.13,102.43L935.62,102.62L936.11,102.85L937.58,103.07L938.07,103.28L938.56,103.49L939.05,103.68L941.01,103.90L941.50,104.09L941.99,104.22L942.48,104.34L942.97,104.46L944.43,104.58L944.92,104.73L945.41,104.94L945.90,105.18L946.39,105.43L947.86,105.68L948.35,105.91L948.84,106.11L949.33,106.31L949.82,106.49L951.29,106.62L951.78,106.73L952.27,106.84L952.76,106.97L953.25,107.07L954.72,107.19L955.21,107.30L955.70,107.34L956.19,107.41L956.68,107.50L958.64,107.61L959.13,107.74L959.62,107.87L960.11,108.00L961.58,108.14L962.07,108.26L962.56,108.38L963.05,108.52L963.54,108.63L965.01,108.68L965.50,108.71L965.98,108.74L966.47,108.76L966.96,108.79L968.43,108.80L968.92,108.80L969.41,108.80L970.39,108.75L971.86,108.74L972.35,108.71L972.84,108.67L973.33,108.63L973.82,108.55L975.29,108.44L975.78,108.33L976.27,108.23L976.76,108.17L978.72,108.12L979.21,108.06L979.70,108.00L980.19,107.95L980.68,107.87L982.15,107.81L982.64,107.73L983.13,107.67L983.62,107.62L984.11,107.68L985.58,107.75L986.07,107.83L986.56,107.92L987.05,108.00L987.54,108.10L989.00,108.15L989.49,108.16L989.98,108.20L990.47,108.27L990.96,108.36L992.43,108.45L992.92,108.54L993.41,108.64L993.90,108.74L994.39,108.83L995.86,108.90L996.35,108.97L996.84,109.02L997.33,109.07L997.82,109.09L999.29,109.09L999.78,109.09L1000.27,109.09L1000.76,109.05L1001.25,109.08L1002.72,109.14L1003.21,109.20L1003.70,109.24L1004.19,109.27L1004.68,109.31L1006.64,109.37L1007.13,109.46L1007.62,109.56L1008.11,109.68L1009.58,109.79L1010.06,109.92L1010.55,110.04L1011.04,110.18L1011.53,110.32L1013.00,110.43L1013.49,110.52L1013.98,110.62L1014.47,110.71L1014.96,110.80L1016.43,110.84L1016.92,110.85L1017.41,110.81L1017.90,110.74L1018.39,110.65L1019.86,110.60L1020.35,110.55L1020.84,110.48L1021.33,110.41L1021.82,110.28L1023.29,110.13L1023.78,109.97L1024.27,109.80L1024.76,109.67L1025.25,109.58L1026.72,109.50L1027.21,109.42L1027.70,109.34L1028.19,109.27L1028.68,109.20L1030.15,109.13L1030.64,109.06L1031.13,108.98L1031.62,108.90L1032.11,108.83L1033.57,108.79L1034.06,108.78L1034.55,108.81L1035.04,108.86L1035.53,108.93L1037.02,109.02L1037.51,109.13L1038.00,109.20L1038.49,109.23L1038.98,109.23L1040.45,109.19L1040.94,109.12L1041.43,109.04L1041.92,108.93L1042.41,108.80L1043.88,108.68L1044.37,108.57L1044.86,108.48L1045.35,108.39L1045.84,108.31L1047.31,108.23L1047.80,108.21L1048.29,108.19L1049.27,108.13L1050.74,108.05L1051.23,107.94L1051.72,107.89L1052.21,107.85L1052.70,107.82L1054.17,107.79L1054.66,107.71L1055.15,107.62L1055.63,107.54L1056.12,107.46L1057.59,107.47L1058.08,107.43L1058.57,107.35L1059.06,107.23L1059.55,107.11L1061.02,107.01L1061.51,106.93L1062.00,106.84L1062.98,106.74L1064.45,106.61L1064.94,106.48L1065.43,106.42L1066.41,106.34L1067.88,106.25L1068.37,106.18L1068.86,106.12L1069.35,106.07L1069.84,106.03L1071.31,105.93L1071.80,105.80L1072.29,105.67L1072.78,105.55L1073.27,105.46L1075.23,105.34L1075.72,105.15L1076.21,104.81L1076.70,104.25L1078.16,103.65L1078.65,103.12L1079.14,102.60L1079.63,102.03L1080.12,101.45"/>
<path stroke="#008000" stroke-opacity="0.7" stroke-width="1.39" stroke-dasharray="8.9,2.22,1.39,2.22" d="M45.5,17.5H1130.5"/>
<path stroke="#ff0000" stroke-opacity="0.7" stroke-width="1.39" stroke-dasharray="8.9,2.22,1.39,2.22" d="M45.5,171.5H1130.5"/>
<path stroke="#ff0000" stroke-opacity="0.7" stroke-width="1.39" stroke-dasharray="5.14,2.22" d="M1080.50,10.5V441.5"/>
</g>
<rect x="45.5" y="10.5" width="1085.0" height="431.0" fill="none" stroke="#000" stroke-width="1.11"/>
<path stroke="#000" stroke-width="1.11" fill="none" d="M40.64,435.50H45.5M40.64,385.50H45.5M40.64,335.50H45.5M40.64,285.50H45.5M40.64,235.50H45.5M40.64,184.50H45.5M40.64,134.50H45.5M40.64,84.50H45.5M40.64,34.50H45.5M171.50,441.5V446.36M350.50,441.5V446.36M529.50,441.5V446.36M708.50,441.5V446.36M887.50,441.5V446.36M1066.50,441.5V446.36"/>
<text transform="translate(34.40,439.85) scale(0.96,0.9)" font-size="13.89" text-anchor="end">10</text>
<text transform="translate(34.40,389.85) scale(0.96,0.9)" font-size="13.89" text-anchor="end">15</text>
<text transform="translate(34.40,339.85) scale(0.96,0.9)" font-size="13.89" text-anchor="end">20</text>
<text transform="translate(34.40,289.85) scale(0.96,0.9)" font-size="13.89" text-anchor="end">25</text>
<text transform="translate(34.40,239.85) scale(0.96,0.9)" font-size="13.89" text-anchor="end">30</text>
<text transform="translate(34.40,188.85) scale(0.96,0.9)" font-size="13.89" text-anchor="end">35</text>
<text transform="translate(34.40,138.85) scale(0.96,0.9)" font-size="13.89" text-anchor="end">40</text>
<text transform="translate(34.40,88.85) scale(0.96,0.9)" font-size="13.89" text-anchor="end">45</text>
<text transform="translate(34.40,38.85) scale(0.96,0.9)" font-size="13.89" text-anchor="end">50</text>
<rect x="52.65" y="17.2" width="107.4" height="119.1" rx="2.8" fill="#fff" fill-opacity="0.8" stroke="#cccccc" stroke-width="1.11"/>
<path stroke="#000" stroke-width="2.2" stroke-linecap="square" d="M57.1,26.8H84.9"/>
<path stroke="#008000" stroke-width="2.2" stroke-linecap="square" d="M57.1,46.7H84.9"/>
<path stroke="#ff0000" stroke-width="2.2" stroke-linecap="square" d="M57.1,67.9H84.9"/>
<path stroke="#800080" stroke-width="2.2" stroke-linecap="square" d="M57.1,85.8H84.9"/>
<path fill="#008000" stroke="#008000" stroke-width="1.39" stroke-miterlimit="10" d="M71.40,96.65L61.95,115.55L80.85,115.55Z"/>
<path fill="#ff0000" stroke="#ff0000" stroke-width="1.39" stroke-miterlimit="10" d="M71.40,134.85L61.95,115.95L80.85,115.95Z"/>
<text transform="translate(96.60,31.90) scale(0.96,0.9)" font-size="13.89">Close</text>
<text transform="translate(96.60,52.00) scale(0.96,0.9)" font-size="13.89">MA50[买]</text>
<text transform="translate(96.60,73.40) scale(0.96,0.9)" font-size="13.89">MA25[卖]</text>
<text transform="translate(96.60,91.60) scale(0.96,0.9)" font-size="13.89">MA200</text>
<text transform="translate(96.60,109.30) scale(0.96,0.9)" font-size="13.89">Buy</text>
<text transform="translate(96.60,129.40) scale(0.96,0.9)" font-size="13.89">Sell</text>
<rect x="930.0" y="317.7" width="183.0" height="106.6" rx="4" fill="#fff" fill-opacity="0.9" stroke="#ff0000" stroke-width="1.11"/>
<text font-size="15.28" fill="#ff0000" text-anchor="end"><tspan x="1107.9" y="333.9">50.47 (-0.03 -0.07%)</tspan><tspan x="1107.9" y="349.8">36.32~51.73</tspan><tspan x="1107.9" y="365.6">47.22/45.97/43.30</tspan><tspan x="1107.9" y="381.5">2026-01-30 05:00</tspan><tspan x="1107.9" y="399.0">-0.86/偏空/+0.49/+0.16</tspan><tspan x="1107.9" y="416.5">连涨11天 +5.97%</tspan></text>
<g clip-path="url(#cv)"><clipPath id="cv"><rect x="45.5" y="456.5" width="1085.0" height="144.0"/></clipPath>
<path fill="#bfbfbf" shape-rendering="crispEdges" d="M94,590V600h1V590ZM95,592V600h1V592ZM97,586V600h1V586ZM98,593V600h1V593ZM99,587V600h1V587ZM101,589V600h1V589ZM102,593V600h1V593ZM104,587V600h1V587ZM105,594V600h1V594ZM106,588V600h1V588ZM108,593V600h1V593ZM109,593V600h1V593ZM111,588V600h1V588ZM118,581V600h1V581ZM119,587V600h1V587ZM121,566V600h1V566ZM122,583V600h1V583ZM123,580V600h1V580ZM125,583V600h1V583ZM126,585V600h1V585ZM128,580V600h1V580ZM129,588V600h1V588ZM130,581V600h1V581ZM132,586V600h1V586ZM133,587V600h1V587ZM135,563V600h1V563ZM142,585V600h1V585ZM143,580V600h1V580ZM145,546V600h1V546ZM146,553V600h1V553ZM147,568V600h1V568ZM149,584V600h1V584ZM150,582V600h1V582ZM152,588V600h1V588ZM153,588V600h1V588ZM154,586V600h1V586ZM156,581V600h1V581ZM157,583V600h1V583ZM159,566V600h1V566ZM160,580V600h1V580ZM166,582V600h1V582ZM167,585V600h1V585ZM169,577V600h1V577ZM170,578V600h1V578ZM173,586V600h1V586ZM174,580V600h1V580ZM176,581V600h1V581ZM177,576V600h1V576ZM178,578V600h1V578ZM180,585V600h1V585ZM181,574V600h1V574ZM183,588V600h1V588ZM184,583V600h1V583ZM190,574V600h1V574ZM191,585V600h1V585ZM194,579V600h1V579ZM195,588V600h1V588ZM197,576V600h1V576ZM198,574V600h1V574ZM200,564V600h1V564ZM201,572V600h1V572ZM202,582V600h1V582ZM204,575V600h1V575ZM205,577V600h1V577ZM207,577V600h1V577ZM214,573V600h1V573ZM215,585V600h1V585ZM217,584V600h1V584ZM218,587V600h1V587ZM219,586V600h1V586ZM221,590V600h1V590ZM222,585V600h1V585ZM224,586V600h1V586ZM225,584V600h1V584ZM226,585V600h1V585ZM228,588V600h1V588ZM229,588V600h1V588ZM231,586V600h1V586ZM238,587V600h1V587ZM239,579V600h1V579ZM241,584V600h1V584ZM242,585V600h1V585ZM243,586V600h1V586ZM245,575V600h1V575ZM246,584V600h1V584ZM248,582V600h1V582ZM249,580V600h1V580ZM250,574V600h1V574ZM252,585V600h1V585ZM253,515V600h1V515ZM255,543V600h1V543ZM262,573V600h1V573ZM263,574V600h1V574ZM265,574V600h1V574ZM266,581V600h1V581ZM267,579V600h1V579ZM269,563V600h1V563ZM270,573V600h1V573ZM272,573V600h1V573ZM273,583V600h1V583ZM274,582V600h1V582ZM276,581V600h1V581ZM277,581V600h1V581ZM279,578V600h1V578ZM286,582V600h1V582ZM287,585V600h1V585ZM289,589V600h1V589ZM290,584V600h1V584ZM291,584V600h1V584ZM293,582V600h1V582ZM294,578V600h1V578ZM296,581V600h1V581ZM297,583V600h1V583ZM298,582V600h1V582ZM300,581V600h1V581ZM301,588V600h1V588ZM303,579V600h1V579ZM310,578V600h1V578ZM311,577V600h1V577ZM313,578V600h1V578ZM314,581V600h1V581ZM315,581V600h1V581ZM317,584V600h1V584ZM318,579V600h1V579ZM320,584V600h1V584ZM321,568V600h1V568ZM322,583V600h1V583ZM324,583V600h1V583ZM325,581V600h1V581ZM327,585V600h1V585ZM328,585V600h1V585ZM334,583V600h1V583ZM335,583V600h1V583ZM337,580V600h1V580ZM338,585V600h1V585ZM339,564V600h1V564ZM341,577V600h1V577ZM342,583V600h1V583ZM344,581V600h1V581ZM345,580V600h1V580ZM348,580V600h1V580ZM349,583V600h1V583ZM351,574V600h1V574ZM352,572V600h1V572ZM358,554V600h1V554ZM359,576V600h1V576ZM361,582V600h1V582ZM362,581V600h1V581ZM363,578V600h1V578ZM365,579V600h1V579ZM366,572V600h1V572ZM368,580V600h1V580ZM369,583V600h1V583ZM370,571V600h1V571ZM372,576V600h1V576ZM373,581V600h1V581ZM376,575V600h1V575ZM382,545V600h1V545ZM383,575V600h1V575ZM385,571V600h1V571ZM386,572V600h1V572ZM387,573V600h1V573ZM389,578V600h1V578ZM390,577V600h1V577ZM392,579V600h1V579ZM393,572V600h1V572ZM394,575V600h1V575ZM396,572V600h1V572ZM397,577V600h1V577ZM399,578V600h1V578ZM406,572V600h1V572ZM407,571V600h1V571ZM409,572V600h1V572ZM410,572V600h1V572ZM411,572V600h1V572ZM413,548V600h1V548ZM414,578V600h1V578ZM416,575V600h1V575ZM417,577V600h1V577ZM418,581V600h1V581ZM420,581V600h1V581ZM421,578V600h1V578ZM430,552V600h1V552ZM431,573V600h1V573ZM434,571V600h1V571ZM435,576V600h1V576ZM437,571V600h1V571ZM438,570V600h1V570ZM441,571V600h1V571ZM442,577V600h1V577ZM444,578V600h1V578ZM445,578V600h1V578ZM447,579V600h1V579ZM452,589V600h1V589ZM454,586V600h1V586ZM455,584V600h1V584ZM457,585V600h1V585ZM458,587V600h1V587ZM459,586V600h1V586ZM461,585V600h1V585ZM462,590V600h1V590ZM464,586V600h1V586ZM465,584V600h1V584ZM466,585V600h1V585ZM468,585V600h1V585ZM469,587V600h1V587ZM476,581V600h1V581ZM478,565V600h1V565ZM479,580V600h1V580ZM481,576V600h1V576ZM482,574V600h1V574ZM483,579V600h1V579ZM485,579V600h1V579ZM486,575V600h1V575ZM488,576V600h1V576ZM489,581V600h1V581ZM490,582V600h1V582ZM492,581V600h1V581ZM493,575V600h1V575ZM495,576V600h1V576ZM500,582V600h1V582ZM502,575V600h1V575ZM503,574V600h1V574ZM505,577V600h1V577ZM506,579V600h1V579ZM507,578V600h1V578ZM509,582V600h1V582ZM512,583V600h1V583ZM513,574V600h1V574ZM514,577V600h1V577ZM516,567V600h1V567ZM517,575V600h1V575ZM519,579V600h1V579ZM520,586V600h1V586ZM526,586V600h1V586ZM527,589V600h1V589ZM530,589V600h1V589ZM531,589V600h1V589ZM533,589V600h1V589ZM534,587V600h1V587ZM537,589V600h1V589ZM538,588V600h1V588ZM540,590V600h1V590ZM541,586V600h1V586ZM543,589V600h1V589ZM544,588V600h1V588ZM550,585V600h1V585ZM551,582V600h1V582ZM554,567V600h1V567ZM555,582V600h1V582ZM557,586V600h1V586ZM558,585V600h1V585ZM560,585V600h1V585ZM561,591V600h1V591ZM562,586V600h1V586ZM564,589V600h1V589ZM565,591V600h1V591ZM572,587V600h1V587ZM574,591V600h1V591ZM575,589V600h1V589ZM577,587V600h1V587ZM578,588V600h1V588ZM579,590V600h1V590ZM581,589V600h1V589ZM582,588V600h1V588ZM584,587V600h1V587ZM585,592V600h1V592ZM586,588V600h1V588ZM588,590V600h1V590ZM589,590V600h1V590ZM596,587V600h1V587ZM598,589V600h1V589ZM599,588V600h1V588ZM602,585V600h1V585ZM603,584V600h1V584ZM605,587V600h1V587ZM606,586V600h1V586ZM608,587V600h1V587ZM609,587V600h1V587ZM610,585V600h1V585ZM612,587V600h1V587ZM613,587V600h1V587ZM620,587V600h1V587ZM622,584V600h1V584ZM623,585V600h1V585ZM625,586V600h1V586ZM626,586V600h1V586ZM627,590V600h1V590ZM629,588V600h1V588ZM630,586V600h1V586ZM632,586V600h1V586ZM633,591V600h1V591ZM634,592V600h1V592ZM636,589V600h1V589ZM637,592V600h1V592ZM644,591V600h1V591ZM646,592V600h1V592ZM647,588V600h1V588ZM650,588V600h1V588ZM651,588V600h1V588ZM653,562V600h1V562ZM654,589V600h1V589ZM656,589V600h1V589ZM657,592V600h1V592ZM658,588V600h1V588ZM660,587V600h1V587ZM661,591V600h1V591ZM668,578V600h1V578ZM670,583V600h1V583ZM671,582V600h1V582ZM673,578V600h1V578ZM674,579V600h1V579ZM675,585V600h1V585ZM677,571V600h1V571ZM678,582V600h1V582ZM680,583V600h1V583ZM681,585V600h1V585ZM682,584V600h1V584ZM684,580V600h1V580ZM685,587V600h1V587ZM687,581V600h1V581ZM694,586V600h1V586ZM695,591V600h1V591ZM697,587V600h1V587ZM698,574V600h1V574ZM699,586V600h1V586ZM701,590V600h1V590ZM702,582V600h1V582ZM705,583V600h1V583ZM706,582V600h1V582ZM708,590V600h1V590ZM709,588V600h1V588ZM711,590V600h1V590ZM718,583V600h1V583ZM719,588V600h1V588ZM721,588V600h1V588ZM722,586V600h1V586ZM723,584V600h1V584ZM725,584V600h1V584ZM726,587V600h1V587ZM728,588V600h1V588ZM729,584V600h1V584ZM730,586V600h1V586ZM732,585V600h1V585ZM733,588V600h1V588ZM735,589V600h1V589ZM742,585V600h1V585ZM743,586V600h1V586ZM745,586V600h1V586ZM746,578V600h1V578ZM747,581V600h1V581ZM749,529V600h1V529ZM750,507V600h1V507ZM752,579V600h1V579ZM753,586V600h1V586ZM754,579V600h1V579ZM756,582V600h1V582ZM757,583V600h1V583ZM764,581V600h1V581ZM766,584V600h1V584ZM767,588V600h1V588ZM769,590V600h1V590ZM770,587V600h1V587ZM771,589V600h1V589ZM773,590V600h1V590ZM774,589V600h1V589ZM776,590V600h1V590ZM777,589V600h1V589ZM778,588V600h1V588ZM780,588V600h1V588ZM781,585V600h1V585ZM788,588V600h1V588ZM790,587V600h1V587ZM791,589V600h1V589ZM793,588V600h1V588ZM794,591V600h1V591ZM795,589V600h1V589ZM797,591V600h1V591ZM800,585V600h1V585ZM801,586V600h1V586ZM802,589V600h1V589ZM804,587V600h1V587ZM805,584V600h1V584ZM812,592V600h1V592ZM814,587V600h1V587ZM815,589V600h1V589ZM817,589V600h1V589ZM818,586V600h1V586ZM819,589V600h1V589ZM821,589V600h1V589ZM822,587V600h1V587ZM824,586V600h1V586ZM825,590V600h1V590ZM826,586V600h1V586ZM828,587V600h1V587ZM829,588V600h1V588ZM836,582V600h1V582ZM838,572V600h1V572ZM839,588V600h1V588ZM841,569V600h1V569ZM842,587V600h1V587ZM843,577V600h1V577ZM845,584V600h1V584ZM846,586V600h1V586ZM848,587V600h1V587ZM849,576V600h1V576ZM850,576V600h1V576ZM852,578V600h1V578ZM853,584V600h1V584ZM862,587V600h1V587ZM863,586V600h1V586ZM865,585V600h1V585ZM866,587V600h1V587ZM867,585V600h1V585ZM869,587V600h1V587ZM872,582V600h1V582ZM873,574V600h1V574ZM874,585V600h1V585ZM876,587V600h1V587ZM877,582V600h1V582ZM879,586V600h1V586ZM886,586V600h1V586ZM887,589V600h1V589ZM889,586V600h1V586ZM890,585V600h1V585ZM891,585V600h1V585ZM893,587V600h1V587ZM894,585V600h1V585ZM897,589V600h1V589ZM898,587V600h1V587ZM900,588V600h1V588ZM901,586V600h1V586ZM903,589V600h1V589ZM910,587V600h1V587ZM911,583V600h1V583ZM913,584V600h1V584ZM914,580V600h1V580ZM915,581V600h1V581ZM917,571V600h1V571ZM918,579V600h1V579ZM920,569V600h1V569ZM921,577V600h1V577ZM922,582V600h1V582ZM924,583V600h1V583ZM925,576V600h1V576ZM932,540V600h1V540ZM934,545V600h1V545ZM935,580V600h1V580ZM937,585V600h1V585ZM938,579V600h1V579ZM941,579V600h1V579ZM942,580V600h1V580ZM944,580V600h1V580ZM945,579V600h1V579ZM946,584V600h1V584ZM948,581V600h1V581ZM949,581V600h1V581ZM956,572V600h1V572ZM958,572V600h1V572ZM959,572V600h1V572ZM961,575V600h1V575ZM962,572V600h1V572ZM963,574V600h1V574ZM965,574V600h1V574ZM966,579V600h1V579ZM968,546V600h1V546ZM969,559V600h1V559ZM970,559V600h1V559ZM972,581V600h1V581ZM973,572V600h1V572ZM980,580V600h1V580ZM982,579V600h1V579ZM983,579V600h1V579ZM985,579V600h1V579ZM986,580V600h1V580ZM987,585V600h1V585ZM989,578V600h1V578ZM990,578V600h1V578ZM992,580V600h1V580ZM993,568V600h1V568ZM994,579V600h1V579ZM996,584V600h1V584ZM997,578V600h1V578ZM1004,578V600h1V578ZM1006,565V600h1V565ZM1007,578V600h1V578ZM1009,570V600h1V570ZM1010,579V600h1V579ZM1011,570V600h1V570ZM1013,567V600h1V567ZM1014,552V600h1V552ZM1016,576V600h1V576ZM1017,563V600h1V563ZM1018,571V600h1V571ZM1020,570V600h1V570ZM1021,572V600h1V572ZM1028,572V600h1V572ZM1030,563V600h1V563ZM1031,580V600h1V580ZM1033,578V600h1V578ZM1034,570V600h1V570ZM1035,577V600h1V577ZM1037,573V600h1V573ZM1038,551V600h1V551ZM1040,582V600h1V582ZM1041,578V600h1V578ZM1042,571V600h1V571ZM1044,571V600h1V571ZM1045,571V600h1V571ZM1047,577V600h1V577ZM1054,568V600h1V568ZM1055,569V600h1V569ZM1057,569V600h1V569ZM1058,550V600h1V550ZM1059,561V600h1V561ZM1061,575V600h1V575ZM1064,559V600h1V559ZM1065,560V600h1V560ZM1066,545V600h1V545ZM1068,551V600h1V551ZM1069,562V600h1V562ZM1071,560V600h1V560ZM1076,570V600h1V570ZM1078,574V600h1V574ZM1079,536V600h1V536Z"/>
<path fill="none" stroke="#b0b0b0" stroke-width="1.11" d="M45.5,600.50H1130.5M45.5,562.50H1130.5M45.5,524.50H1130.5M45.5,487.50H1130.5M171.50,456.5V600.5M350.50,456.5V600.5M529.50,456.5V600.5M708.50,456.5V600.5M887.50,456.5V600.5M1066.50,456.5V600.5"/>
</g>
<rect x="45.5" y="456.5" width="1085.0" height="144.0" fill="none" stroke="#000" stroke-width="1.11"/>
<path stroke="#000" stroke-width="1.11" fill="none" d="M40.64,600.50H45.5M40.64,562.50H45.5M40.64,524.50H45.5M40.64,487.50H45.5M171.50,600.5V605.36M350.50,600.5V605.36M529.50,600.5V605.36M708.50,600.5V605.36M887.50,600.5V605.36M1066.50,600.5V605.36"/>
<text transform="translate(34.40,604.85) scale(0.96,0.9)" font-size="13.89" text-anchor="end">0</text>
<text transform="translate(34.40,566.85) scale(0.96,0.9)" font-size="13.89" text-anchor="end">2</text>
<text transform="translate(34.40,528.85) scale(0.96,0.9)" font-size="13.89" text-anchor="end">4</text>
<text transform="translate(34.40,491.85) scale(0.96,0.9)" font-size="13.89" text-anchor="end">6</text>
<text transform="translate(171.50,619.20) scale(0.96,0.9)" font-size="13.89" text-anchor="middle">2021-01</text>
<text transform="translate(350.50,619.20) scale(0.96,0.9)" font-size="13.89" text-anchor="middle">2022-01</text>
<text transform="translate(529.50,619.20) scale(0.96,0.9)" font-size="13.89" text-anchor="middle">2023-01</text>
<text transform="translate(708.50,619.20) scale(0.96,0.9)" font-size="13.89" text-anchor="middle">2024-01</text>
<text transform="translate(887.50,619.20) scale(0.96,0.9)" font-size="13.89" text-anchor="middle">2025-01</text>
<text transform="translate(1066.50,619.20) scale(0.96,0.9)" font-size="13.89" text-anchor="middle">2026-01</text>
<text transform="translate(45.30,451.60) scale(0.96,0.9)" font-size="13.89">1e6</text>
<text transform="translate(18.6,529.3) rotate(-90) scale(0.95,0.92)" font-size="13.89" text-anchor="middle">Volume</text>
<text font-size="16.67" xml:space="preserve"><tspan x="45.0" y="656.1">XLE 交易次数: 6</tspan><tspan x="45.0" y="675.7">策略总收益率: 302.16%</tspan><tspan x="45.0" y="695.1">长期持有收益: 308.95%</tspan><tspan x="45.0" y="714.7">交易记录:</tspan><tspan x="45.0" y="732.3">  Buy Date  Buy Price  Sell Date  Sell Price  Holding Days  Profit %</tspan><tspan x="45.0" y="748.8">2020-10-05      12.34 2020-12-21       15.81            77     28.12</tspan><tspan x="45.0" y="766.5">2021-01-29      16.30 2021-03-18       20.52            47     25.89</tspan><tspan x="45.0" y="784.6">2021-04-13      20.04 2021-11-10       24.61           211     22.80</tspan><tspan x="45.0" y="801.9">2021-11-19      23.41 2022-02-22       29.04            95     24.05</tspan><tspan x="45.0" y="818.9">2022-04-25      32.27 2022-11-28       39.96           217     23.83</tspan><tspan x="45.0" y="835.8">2022-12-06      38.18 2026-01-30       50.46          1151     32.18</tspan></text>
</svg>
</body></html>
